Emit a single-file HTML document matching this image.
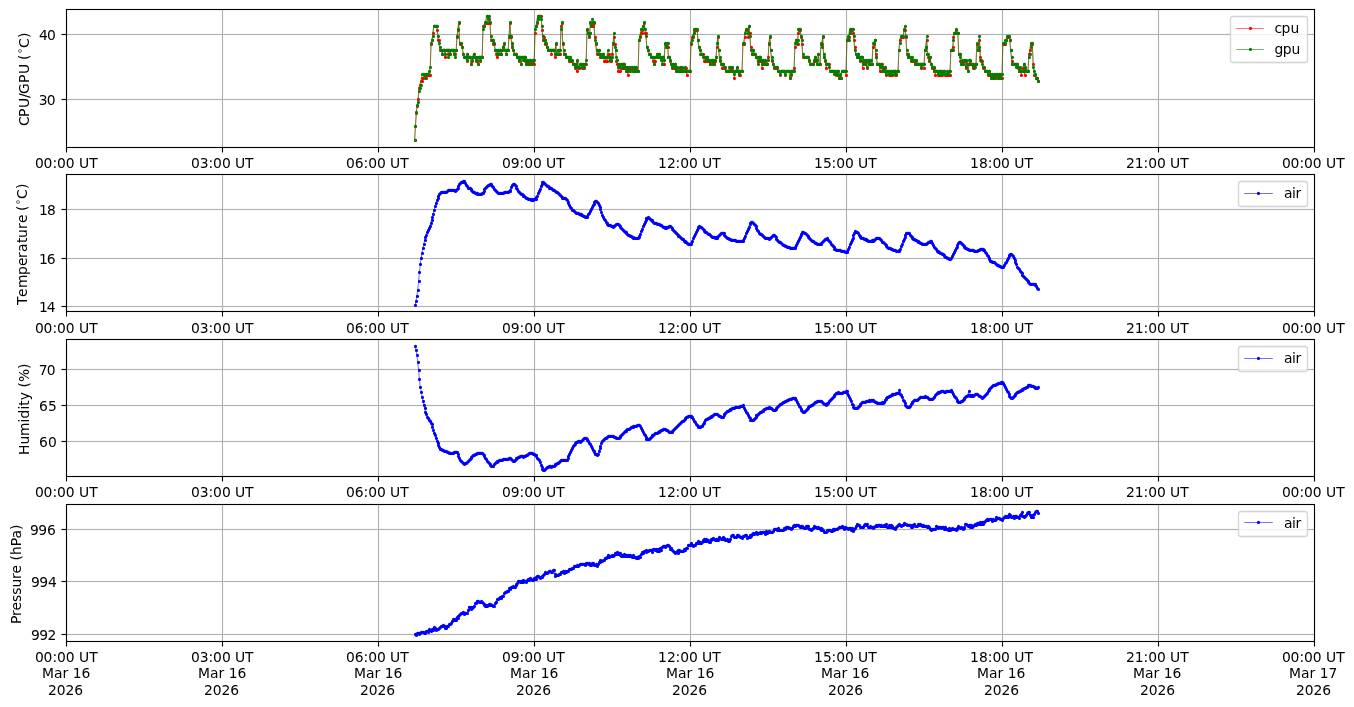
<!DOCTYPE html>
<html lang="en">
<head>
<meta charset="utf-8">
<title>Sensor log: CPU/GPU temperature, air temperature, humidity, pressure</title>
<style>
html,body{margin:0;padding:0;background:#fff}
body{width:1354px;height:707px;overflow:hidden}
svg{display:block}
text{white-space:pre}
</style>
</head>
<body>
<svg width="1354" height="707" viewBox="0 0 1354 707" font-family="'DejaVu Sans','Liberation Sans',sans-serif" font-size="13.89" fill="#000">
<rect width="1354" height="707" fill="#fff"/>
<g>
<path d="M222.5 9.5V147.5M378.5 9.5V147.5M534.5 9.5V147.5M690.5 9.5V147.5M846.5 9.5V147.5M1002.5 9.5V147.5M1158.5 9.5V147.5" stroke="#b0b0b0" stroke-width="1.11" fill="none"/>
<rect x="66.5" y="34" width="1248" height="1" fill="#b0b0b0"/><rect x="66.5" y="33" width="1248" height="3" fill="#b0b0b0" fill-opacity="0.065"/>
<rect x="66.5" y="99" width="1248" height="1" fill="#b0b0b0"/><rect x="66.5" y="98" width="1248" height="3" fill="#b0b0b0" fill-opacity="0.065"/>
<clipPath id="c0"><rect x="66.5" y="9.5" width="1248" height="138"/></clipPath>
<g clip-path="url(#c0)">
<path d="M414.59 140.12L415.46 126.32L416.32 112.52L417.19 105.62L418.06 98.72L418.92 88.37L419.79 84.92L420.66 81.47L421.52 81.47L422.39 78.02L423.26 78.02L424.12 74.57L424.99 74.57L425.86 78.02L426.72 74.57L427.59 74.57L428.45 74.57L429.32 74.57L430.19 74.57L431.05 43.52L431.92 40.07L432.79 33.17L433.65 26.27L434.52 26.27L435.39 26.27L436.25 26.27L437.12 29.72L437.98 40.07L438.85 40.07L439.72 50.42L440.58 50.42L441.45 50.42L442.32 53.87L443.18 50.42L444.05 50.42L444.92 57.32L445.78 50.42L446.65 50.42L447.51 50.42L448.38 53.87L449.25 50.42L450.11 53.87L450.98 50.42L451.85 50.42L452.71 50.42L453.58 53.87L454.45 53.87L455.31 53.87L456.18 50.42L457.04 36.62L457.91 29.72L458.78 22.82L459.64 43.52L460.51 43.52L461.38 43.52L462.24 46.97L463.11 53.87L463.98 57.32L464.84 57.32L465.71 57.32L466.58 60.77L467.44 53.87L468.31 57.32L469.17 57.32L470.04 57.32L470.91 64.22L471.77 60.77L472.64 57.32L473.51 53.87L474.37 57.32L475.24 57.32L476.11 60.77L476.97 60.77L477.84 64.22L478.7 57.32L479.57 57.32L480.44 60.77L481.3 57.32L482.17 57.32L483.04 26.27L483.9 26.27L484.77 22.82L485.64 22.82L486.5 15.92L487.37 15.92L488.23 22.82L489.1 19.37L489.97 22.82L490.83 40.07L491.7 40.07L492.57 40.07L493.43 43.52L494.3 43.52L495.17 50.42L496.03 53.87L496.9 57.32L497.76 50.42L498.63 53.87L499.5 50.42L500.36 50.42L501.23 53.87L502.1 50.42L502.96 46.97L503.83 43.52L504.7 50.42L505.56 50.42L506.43 53.87L507.29 50.42L508.16 50.42L509.03 36.62L509.89 22.82L510.76 36.62L511.63 43.52L512.49 46.97L513.36 50.42L514.23 53.87L515.09 53.87L515.96 53.87L516.83 57.32L517.69 57.32L518.56 60.77L519.42 57.32L520.29 57.32L521.16 64.22L522.02 57.32L522.89 57.32L523.76 57.32L524.62 60.77L525.49 57.32L526.36 64.22L527.22 60.77L528.09 64.22L528.95 60.77L529.82 64.22L530.69 64.22L531.55 60.77L532.42 64.22L533.29 60.77L534.15 64.22L535.02 33.17L535.89 26.27L536.75 22.82L537.62 15.92L538.48 19.37L539.35 15.92L540.22 15.92L541.08 15.92L541.95 29.72L542.82 40.07L543.68 36.62L544.55 40.07L545.42 43.52L546.28 43.52L547.15 46.97L548.01 50.42L548.88 50.42L549.75 50.42L550.61 50.42L551.48 53.87L552.35 50.42L553.21 50.42L554.08 50.42L554.95 57.32L555.81 43.52L556.68 53.87L557.55 50.42L558.41 53.87L559.28 53.87L560.14 53.87L561.01 26.27L561.88 22.82L562.74 43.52L563.61 53.87L564.48 53.87L565.34 53.87L566.21 57.32L567.08 57.32L567.94 57.32L568.81 60.77L569.67 57.32L570.54 60.77L571.41 60.77L572.27 60.77L573.14 64.22L574.01 64.22L574.87 67.67L575.74 64.22L576.61 71.12L577.47 60.77L578.34 67.67L579.2 67.67L580.07 64.22L580.94 64.22L581.8 67.67L582.67 64.22L583.54 67.67L584.4 67.67L585.27 64.22L586.14 64.22L587 29.72L587.87 33.17L588.73 36.62L589.6 33.17L590.47 22.82L591.33 26.27L592.2 22.82L593.07 26.27L593.93 22.82L594.8 36.62L595.67 43.52L596.53 53.87L597.4 50.42L598.27 53.87L599.13 50.42L600 57.32L600.86 57.32L601.73 57.32L602.6 53.87L603.46 57.32L604.33 60.77L605.2 60.77L606.06 57.32L606.93 60.77L607.8 53.87L608.66 53.87L609.53 60.77L610.39 57.32L611.26 60.77L612.13 53.87L612.99 43.52L613.86 36.62L614.73 43.52L615.59 50.42L616.46 60.77L617.33 64.22L618.19 71.12L619.06 64.22L619.92 71.12L620.79 67.67L621.66 64.22L622.52 67.67L623.39 64.22L624.26 64.22L625.12 67.67L625.99 71.12L626.86 67.67L627.72 74.57L628.59 71.12L629.45 67.67L630.32 71.12L631.19 67.67L632.05 67.67L632.92 71.12L633.79 67.67L634.65 71.12L635.52 71.12L636.39 67.67L637.25 71.12L638.12 71.12L638.99 40.07L639.85 36.62L640.72 33.17L641.58 29.72L642.45 33.17L643.32 26.27L644.18 22.82L645.05 33.17L645.92 33.17L646.78 46.97L647.65 50.42L648.52 53.87L649.38 53.87L650.25 53.87L651.11 57.32L651.98 57.32L652.85 60.77L653.71 64.22L654.58 60.77L655.45 57.32L656.31 57.32L657.18 53.87L658.05 57.32L658.91 53.87L659.78 57.32L660.64 57.32L661.51 57.32L662.38 64.22L663.24 57.32L664.11 64.22L664.98 43.52L665.84 46.97L666.71 43.52L667.58 46.97L668.44 57.32L669.31 57.32L670.17 60.77L671.04 64.22L671.91 67.67L672.77 64.22L673.64 67.67L674.51 64.22L675.37 67.67L676.24 71.12L677.11 67.67L677.97 71.12L678.84 71.12L679.7 67.67L680.57 71.12L681.44 71.12L682.3 67.67L683.17 71.12L684.04 71.12L684.9 67.67L685.77 67.67L686.64 74.57L687.5 71.12L688.37 71.12L689.24 71.12L690.1 71.12L690.97 43.52L691.83 36.62L692.7 36.62L693.57 33.17L694.43 29.72L695.3 29.72L696.17 29.72L697.03 29.72L697.9 40.07L698.77 46.97L699.63 50.42L700.5 50.42L701.36 53.87L702.23 53.87L703.1 53.87L703.96 60.77L704.83 57.32L705.7 60.77L706.56 57.32L707.43 57.32L708.3 60.77L709.16 60.77L710.03 64.22L710.89 60.77L711.76 60.77L712.63 64.22L713.49 60.77L714.36 64.22L715.23 60.77L716.09 57.32L716.96 46.97L717.83 36.62L718.69 50.42L719.56 60.77L720.42 60.77L721.29 64.22L722.16 67.67L723.02 64.22L723.89 67.67L724.76 67.67L725.62 71.12L726.49 71.12L727.36 71.12L728.22 71.12L729.09 71.12L729.96 67.67L730.82 71.12L731.69 67.67L732.55 71.12L733.42 71.12L734.29 78.02L735.15 71.12L736.02 71.12L736.89 67.67L737.75 71.12L738.62 74.57L739.49 71.12L740.35 74.57L741.22 71.12L742.08 71.12L742.95 43.52L743.82 43.52L744.68 36.62L745.55 29.72L746.42 29.72L747.28 29.72L748.15 36.62L749.02 26.27L749.88 33.17L750.75 46.97L751.61 53.87L752.48 53.87L753.35 50.42L754.21 53.87L755.08 53.87L755.95 57.32L756.81 57.32L757.68 60.77L758.55 57.32L759.41 60.77L760.28 57.32L761.14 60.77L762.01 67.67L762.88 60.77L763.74 64.22L764.61 60.77L765.48 64.22L766.34 64.22L767.21 64.22L768.08 57.32L768.94 43.52L769.81 36.62L770.68 50.42L771.54 60.77L772.41 60.77L773.27 64.22L774.14 67.67L775.01 67.67L775.87 67.67L776.74 67.67L777.61 71.12L778.47 71.12L779.34 71.12L780.21 74.57L781.07 71.12L781.94 71.12L782.8 71.12L783.67 71.12L784.54 74.57L785.4 74.57L786.27 71.12L787.14 71.12L788 71.12L788.87 71.12L789.74 78.02L790.6 74.57L791.47 71.12L792.33 71.12L793.2 71.12L794.07 67.67L794.93 46.97L795.8 40.07L796.67 43.52L797.53 43.52L798.4 33.17L799.27 29.72L800.13 29.72L801 36.62L801.86 43.52L802.73 57.32L803.6 57.32L804.46 57.32L805.33 57.32L806.2 57.32L807.06 57.32L807.93 57.32L808.8 60.77L809.66 64.22L810.53 64.22L811.4 64.22L812.26 64.22L813.13 64.22L813.99 60.77L814.86 57.32L815.73 60.77L816.59 64.22L817.46 64.22L818.33 53.87L819.19 64.22L820.06 64.22L820.93 43.52L821.79 43.52L822.66 36.62L823.52 57.32L824.39 57.32L825.26 60.77L826.12 67.67L826.99 64.22L827.86 64.22L828.72 64.22L829.59 71.12L830.46 71.12L831.32 71.12L832.19 71.12L833.05 71.12L833.92 71.12L834.79 71.12L835.65 74.57L836.52 71.12L837.39 74.57L838.25 71.12L839.12 78.02L839.99 74.57L840.85 78.02L841.72 71.12L842.58 71.12L843.45 71.12L844.32 71.12L845.18 71.12L846.05 74.57L846.92 40.07L847.78 36.62L848.65 36.62L849.52 29.72L850.38 33.17L851.25 29.72L852.11 29.72L852.98 33.17L853.85 40.07L854.71 46.97L855.58 53.87L856.45 53.87L857.31 57.32L858.18 53.87L859.05 57.32L859.91 60.77L860.78 57.32L861.65 57.32L862.51 67.67L863.38 60.77L864.24 60.77L865.11 64.22L865.98 60.77L866.84 67.67L867.71 60.77L868.58 64.22L869.44 60.77L870.31 64.22L871.18 64.22L872.04 64.22L872.91 46.97L873.77 43.52L874.64 40.07L875.51 53.87L876.37 57.32L877.24 64.22L878.11 64.22L878.97 64.22L879.84 71.12L880.71 64.22L881.57 64.22L882.44 71.12L883.3 67.67L884.17 71.12L885.04 67.67L885.9 74.57L886.77 71.12L887.64 71.12L888.5 74.57L889.37 74.57L890.24 74.57L891.1 71.12L891.97 74.57L892.83 71.12L893.7 71.12L894.57 74.57L895.43 71.12L896.3 74.57L897.17 71.12L898.03 71.12L898.9 50.42L899.77 40.07L900.63 36.62L901.5 36.62L902.37 36.62L903.23 36.62L904.1 29.72L904.96 29.72L905.83 36.62L906.7 53.87L907.56 57.32L908.43 53.87L909.3 57.32L910.16 57.32L911.03 60.77L911.9 60.77L912.76 60.77L913.63 60.77L914.49 60.77L915.36 64.22L916.23 60.77L917.09 64.22L917.96 64.22L918.83 64.22L919.69 64.22L920.56 64.22L921.43 67.67L922.29 64.22L923.16 64.22L924.02 67.67L924.89 50.42L925.76 46.97L926.62 40.07L927.49 53.87L928.36 57.32L929.22 60.77L930.09 57.32L930.96 64.22L931.82 67.67L932.69 67.67L933.55 67.67L934.42 71.12L935.29 74.57L936.15 71.12L937.02 71.12L937.89 74.57L938.75 71.12L939.62 71.12L940.49 74.57L941.35 71.12L942.22 74.57L943.09 71.12L943.95 71.12L944.82 74.57L945.68 74.57L946.55 74.57L947.42 74.57L948.28 74.57L949.15 71.12L950.02 74.57L950.88 50.42L951.75 50.42L952.62 46.97L953.48 36.62L954.35 33.17L955.21 33.17L956.08 29.72L956.95 33.17L957.81 33.17L958.68 53.87L959.55 53.87L960.41 60.77L961.28 64.22L962.15 60.77L963.01 64.22L963.88 60.77L964.74 60.77L965.61 67.67L966.48 60.77L967.34 64.22L968.21 71.12L969.08 64.22L969.94 60.77L970.81 64.22L971.68 64.22L972.54 67.67L973.41 64.22L974.27 67.67L975.14 64.22L976.01 64.22L976.87 43.52L977.74 50.42L978.61 50.42L979.47 40.07L980.34 57.32L981.21 60.77L982.07 60.77L982.94 67.67L983.81 67.67L984.67 71.12L985.54 71.12L986.4 71.12L987.27 71.12L988.14 74.57L989 71.12L989.87 74.57L990.74 78.02L991.6 74.57L992.47 78.02L993.34 78.02L994.2 74.57L995.07 78.02L995.93 74.57L996.8 74.57L997.67 78.02L998.53 74.57L999.4 78.02L1000.27 74.57L1001.13 78.02L1002 78.02L1002.87 43.52L1003.73 43.52L1004.6 43.52L1005.46 43.52L1006.33 40.07L1007.2 36.62L1008.06 36.62L1008.93 36.62L1009.8 40.07L1010.66 50.42L1011.53 60.77L1012.4 64.22L1013.26 64.22L1014.13 64.22L1014.99 64.22L1015.86 64.22L1016.73 64.22L1017.59 67.67L1018.46 67.67L1019.33 71.12L1020.19 67.67L1021.06 74.57L1021.93 71.12L1022.79 67.67L1023.66 64.22L1024.52 74.57L1025.39 67.67L1026.26 71.12L1027.12 71.12L1027.99 71.12L1028.86 53.87L1029.72 50.42L1030.59 43.52L1031.46 43.52L1032.32 43.52L1033.19 64.22L1034.06 74.57L1034.92 74.57L1035.79 78.02L1036.65 78.02L1037.52 81.47L1038.39 81.47" fill="none" stroke="#ff0000" stroke-width="0.56" stroke-linejoin="round"/>
<path d="M415.5 140.4h0M415.5 126.4h0M416.5 113.4h0M417.5 106.4h0M418.5 99.4h0M419.5 88.4h0M420.5 85.4h0M421.5 81.4h0M422.5 81.4h0M422.5 78.4h0M423.5 78.4h0M424.5 75.4h0M425.5 75.4h0M426.5 78.4h0M427.5 75.4h0M428.5 75.4h0M428.5 75.4h0M429.5 75.4h0M430.5 75.4h0M431.5 44.4h0M432.5 40.4h0M433.5 33.4h0M434.5 26.4h0M435.5 26.4h0M435.5 26.4h0M436.5 26.4h0M437.5 30.4h0M438.5 40.4h0M439.5 40.4h0M440.5 50.4h0M441.5 50.4h0M441.5 50.4h0M442.5 54.4h0M443.5 50.4h0M444.5 50.4h0M445.5 57.4h0M446.5 50.4h0M447.5 50.4h0M448.5 50.4h0M448.5 54.4h0M449.5 50.4h0M450.5 54.4h0M451.5 50.4h0M452.5 50.4h0M453.5 50.4h0M454.5 54.4h0M454.5 54.4h0M455.5 54.4h0M456.5 50.4h0M457.5 37.4h0M458.5 30.4h0M459.5 23.4h0M460.5 44.4h0M461.5 44.4h0M461.5 44.4h0M462.5 47.4h0M463.5 54.4h0M464.5 57.4h0M465.5 57.4h0M466.5 57.4h0M467.5 61.4h0M467.5 54.4h0M468.5 57.4h0M469.5 57.4h0M470.5 57.4h0M471.5 64.4h0M472.5 61.4h0M473.5 57.4h0M474.5 54.4h0M474.5 57.4h0M475.5 57.4h0M476.5 61.4h0M477.5 61.4h0M478.5 64.4h0M479.5 57.4h0M480.5 57.4h0M480.5 61.4h0M481.5 57.4h0M482.5 57.4h0M483.5 26.4h0M484.5 26.4h0M485.5 23.4h0M486.5 23.4h0M487.5 16.4h0M487.5 16.4h0M488.5 23.4h0M489.5 19.4h0M490.5 23.4h0M491.5 40.4h0M492.5 40.4h0M493.5 40.4h0M493.5 44.4h0M494.5 44.4h0M495.5 50.4h0M496.5 54.4h0M497.5 57.4h0M498.5 50.4h0M499.5 54.4h0M499.5 50.4h0M500.5 50.4h0M501.5 54.4h0M502.5 50.4h0M503.5 47.4h0M504.5 44.4h0M505.5 50.4h0M506.5 50.4h0M506.5 54.4h0M507.5 50.4h0M508.5 50.4h0M509.5 37.4h0M510.5 23.4h0M511.5 37.4h0M512.5 44.4h0M512.5 47.4h0M513.5 50.4h0M514.5 54.4h0M515.5 54.4h0M516.5 54.4h0M517.5 57.4h0M518.5 57.4h0M519.5 61.4h0M519.5 57.4h0M520.5 57.4h0M521.5 64.4h0M522.5 57.4h0M523.5 57.4h0M524.5 57.4h0M525.5 61.4h0M525.5 57.4h0M526.5 64.4h0M527.5 61.4h0M528.5 64.4h0M529.5 61.4h0M530.5 64.4h0M531.5 64.4h0M532.5 61.4h0M532.5 64.4h0M533.5 61.4h0M534.5 64.4h0M535.5 33.4h0M536.5 26.4h0M537.5 23.4h0M538.5 16.4h0M538.5 19.4h0M539.5 16.4h0M540.5 16.4h0M541.5 16.4h0M542.5 30.4h0M543.5 40.4h0M544.5 37.4h0M545.5 40.4h0M545.5 44.4h0M546.5 44.4h0M547.5 47.4h0M548.5 50.4h0M549.5 50.4h0M550.5 50.4h0M551.5 50.4h0M551.5 54.4h0M552.5 50.4h0M553.5 50.4h0M554.5 50.4h0M555.5 57.4h0M556.5 44.4h0M557.5 54.4h0M558.5 50.4h0M558.5 54.4h0M559.5 54.4h0M560.5 54.4h0M561.5 26.4h0M562.5 23.4h0M563.5 44.4h0M564.5 54.4h0M564.5 54.4h0M565.5 54.4h0M566.5 57.4h0M567.5 57.4h0M568.5 57.4h0M569.5 61.4h0M570.5 57.4h0M571.5 61.4h0M571.5 61.4h0M572.5 61.4h0M573.5 64.4h0M574.5 64.4h0M575.5 68.4h0M576.5 64.4h0M577.5 71.4h0M577.5 61.4h0M578.5 68.4h0M579.5 68.4h0M580.5 64.4h0M581.5 64.4h0M582.5 68.4h0M583.5 64.4h0M584.5 68.4h0M584.5 68.4h0M585.5 64.4h0M586.5 64.4h0M587.5 30.4h0M588.5 33.4h0M589.5 37.4h0M590.5 33.4h0M590.5 23.4h0M591.5 26.4h0M592.5 23.4h0M593.5 26.4h0M594.5 23.4h0M595.5 37.4h0M596.5 44.4h0M597.5 54.4h0M597.5 50.4h0M598.5 54.4h0M599.5 50.4h0M600.5 57.4h0M601.5 57.4h0M602.5 57.4h0M603.5 54.4h0M603.5 57.4h0M604.5 61.4h0M605.5 61.4h0M606.5 57.4h0M607.5 61.4h0M608.5 54.4h0M609.5 54.4h0M610.5 61.4h0M610.5 57.4h0M611.5 61.4h0M612.5 54.4h0M613.5 44.4h0M614.5 37.4h0M615.5 44.4h0M616.5 50.4h0M616.5 61.4h0M617.5 64.4h0M618.5 71.4h0M619.5 64.4h0M620.5 71.4h0M621.5 68.4h0M622.5 64.4h0M623.5 68.4h0M623.5 64.4h0M624.5 64.4h0M625.5 68.4h0M626.5 71.4h0M627.5 68.4h0M628.5 75.4h0M629.5 71.4h0M629.5 68.4h0M630.5 71.4h0M631.5 68.4h0M632.5 68.4h0M633.5 71.4h0M634.5 68.4h0M635.5 71.4h0M636.5 71.4h0M636.5 68.4h0M637.5 71.4h0M638.5 71.4h0M639.5 40.4h0M640.5 37.4h0M641.5 33.4h0M642.5 30.4h0M642.5 33.4h0M643.5 26.4h0M644.5 23.4h0M645.5 33.4h0M646.5 33.4h0M647.5 47.4h0M648.5 50.4h0M649.5 54.4h0M649.5 54.4h0M650.5 54.4h0M651.5 57.4h0M652.5 57.4h0M653.5 61.4h0M654.5 64.4h0M655.5 61.4h0M655.5 57.4h0M656.5 57.4h0M657.5 54.4h0M658.5 57.4h0M659.5 54.4h0M660.5 57.4h0M661.5 57.4h0M662.5 57.4h0M662.5 64.4h0M663.5 57.4h0M664.5 64.4h0M665.5 44.4h0M666.5 47.4h0M667.5 44.4h0M668.5 47.4h0M668.5 57.4h0M669.5 57.4h0M670.5 61.4h0M671.5 64.4h0M672.5 68.4h0M673.5 64.4h0M674.5 68.4h0M675.5 64.4h0M675.5 68.4h0M676.5 71.4h0M677.5 68.4h0M678.5 71.4h0M679.5 71.4h0M680.5 68.4h0M681.5 71.4h0M681.5 71.4h0M682.5 68.4h0M683.5 71.4h0M684.5 71.4h0M685.5 68.4h0M686.5 68.4h0M687.5 75.4h0M688.5 71.4h0M688.5 71.4h0M689.5 71.4h0M690.5 71.4h0M691.5 44.4h0M692.5 37.4h0M693.5 37.4h0M694.5 33.4h0M694.5 30.4h0M695.5 30.4h0M696.5 30.4h0M697.5 30.4h0M698.5 40.4h0M699.5 47.4h0M700.5 50.4h0M700.5 50.4h0M701.5 54.4h0M702.5 54.4h0M703.5 54.4h0M704.5 61.4h0M705.5 57.4h0M706.5 61.4h0M707.5 57.4h0M707.5 57.4h0M708.5 61.4h0M709.5 61.4h0M710.5 64.4h0M711.5 61.4h0M712.5 61.4h0M713.5 64.4h0M713.5 61.4h0M714.5 64.4h0M715.5 61.4h0M716.5 57.4h0M717.5 47.4h0M718.5 37.4h0M719.5 50.4h0M720.5 61.4h0M720.5 61.4h0M721.5 64.4h0M722.5 68.4h0M723.5 64.4h0M724.5 68.4h0M725.5 68.4h0M726.5 71.4h0M726.5 71.4h0M727.5 71.4h0M728.5 71.4h0M729.5 71.4h0M730.5 68.4h0M731.5 71.4h0M732.5 68.4h0M733.5 71.4h0M733.5 71.4h0M734.5 78.4h0M735.5 71.4h0M736.5 71.4h0M737.5 68.4h0M738.5 71.4h0M739.5 75.4h0M739.5 71.4h0M740.5 75.4h0M741.5 71.4h0M742.5 71.4h0M743.5 44.4h0M744.5 44.4h0M745.5 37.4h0M746.5 30.4h0M746.5 30.4h0M747.5 30.4h0M748.5 37.4h0M749.5 26.4h0M750.5 33.4h0M751.5 47.4h0M752.5 54.4h0M752.5 54.4h0M753.5 50.4h0M754.5 54.4h0M755.5 54.4h0M756.5 57.4h0M757.5 57.4h0M758.5 61.4h0M759.5 57.4h0M759.5 61.4h0M760.5 57.4h0M761.5 61.4h0M762.5 68.4h0M763.5 61.4h0M764.5 64.4h0M765.5 61.4h0M765.5 64.4h0M766.5 64.4h0M767.5 64.4h0M768.5 57.4h0M769.5 44.4h0M770.5 37.4h0M771.5 50.4h0M772.5 61.4h0M772.5 61.4h0M773.5 64.4h0M774.5 68.4h0M775.5 68.4h0M776.5 68.4h0M777.5 68.4h0M778.5 71.4h0M778.5 71.4h0M779.5 71.4h0M780.5 75.4h0M781.5 71.4h0M782.5 71.4h0M783.5 71.4h0M784.5 71.4h0M785.5 75.4h0M785.5 75.4h0M786.5 71.4h0M787.5 71.4h0M788.5 71.4h0M789.5 71.4h0M790.5 78.4h0M791.5 75.4h0M791.5 71.4h0M792.5 71.4h0M793.5 71.4h0M794.5 68.4h0M795.5 47.4h0M796.5 40.4h0M797.5 44.4h0M798.5 44.4h0M798.5 33.4h0M799.5 30.4h0M800.5 30.4h0M801.5 37.4h0M802.5 44.4h0M803.5 57.4h0M804.5 57.4h0M804.5 57.4h0M805.5 57.4h0M806.5 57.4h0M807.5 57.4h0M808.5 57.4h0M809.5 61.4h0M810.5 64.4h0M811.5 64.4h0M811.5 64.4h0M812.5 64.4h0M813.5 64.4h0M814.5 61.4h0M815.5 57.4h0M816.5 61.4h0M817.5 64.4h0M817.5 64.4h0M818.5 54.4h0M819.5 64.4h0M820.5 64.4h0M821.5 44.4h0M822.5 44.4h0M823.5 37.4h0M824.5 57.4h0M824.5 57.4h0M825.5 61.4h0M826.5 68.4h0M827.5 64.4h0M828.5 64.4h0M829.5 64.4h0M830.5 71.4h0M830.5 71.4h0M831.5 71.4h0M832.5 71.4h0M833.5 71.4h0M834.5 71.4h0M835.5 71.4h0M836.5 75.4h0M837.5 71.4h0M837.5 75.4h0M838.5 71.4h0M839.5 78.4h0M840.5 75.4h0M841.5 78.4h0M842.5 71.4h0M843.5 71.4h0M843.5 71.4h0M844.5 71.4h0M845.5 71.4h0M846.5 75.4h0M847.5 40.4h0M848.5 37.4h0M849.5 37.4h0M850.5 30.4h0M850.5 33.4h0M851.5 30.4h0M852.5 30.4h0M853.5 33.4h0M854.5 40.4h0M855.5 47.4h0M856.5 54.4h0M856.5 54.4h0M857.5 57.4h0M858.5 54.4h0M859.5 57.4h0M860.5 61.4h0M861.5 57.4h0M862.5 57.4h0M863.5 68.4h0M863.5 61.4h0M864.5 61.4h0M865.5 64.4h0M866.5 61.4h0M867.5 68.4h0M868.5 61.4h0M869.5 64.4h0M869.5 61.4h0M870.5 64.4h0M871.5 64.4h0M872.5 64.4h0M873.5 47.4h0M874.5 44.4h0M875.5 40.4h0M876.5 54.4h0M876.5 57.4h0M877.5 64.4h0M878.5 64.4h0M879.5 64.4h0M880.5 71.4h0M881.5 64.4h0M882.5 64.4h0M882.5 71.4h0M883.5 68.4h0M884.5 71.4h0M885.5 68.4h0M886.5 75.4h0M887.5 71.4h0M888.5 71.4h0M889.5 75.4h0M889.5 75.4h0M890.5 75.4h0M891.5 71.4h0M892.5 75.4h0M893.5 71.4h0M894.5 71.4h0M895.5 75.4h0M895.5 71.4h0M896.5 75.4h0M897.5 71.4h0M898.5 71.4h0M899.5 50.4h0M900.5 40.4h0M901.5 37.4h0M901.5 37.4h0M902.5 37.4h0M903.5 37.4h0M904.5 30.4h0M905.5 30.4h0M906.5 37.4h0M907.5 54.4h0M908.5 57.4h0M908.5 54.4h0M909.5 57.4h0M910.5 57.4h0M911.5 61.4h0M912.5 61.4h0M913.5 61.4h0M914.5 61.4h0M914.5 61.4h0M915.5 64.4h0M916.5 61.4h0M917.5 64.4h0M918.5 64.4h0M919.5 64.4h0M920.5 64.4h0M921.5 64.4h0M921.5 68.4h0M922.5 64.4h0M923.5 64.4h0M924.5 68.4h0M925.5 50.4h0M926.5 47.4h0M927.5 40.4h0M927.5 54.4h0M928.5 57.4h0M929.5 61.4h0M930.5 57.4h0M931.5 64.4h0M932.5 68.4h0M933.5 68.4h0M934.5 68.4h0M934.5 71.4h0M935.5 75.4h0M936.5 71.4h0M937.5 71.4h0M938.5 75.4h0M939.5 71.4h0M940.5 71.4h0M940.5 75.4h0M941.5 71.4h0M942.5 75.4h0M943.5 71.4h0M944.5 71.4h0M945.5 75.4h0M946.5 75.4h0M947.5 75.4h0M947.5 75.4h0M948.5 75.4h0M949.5 71.4h0M950.5 75.4h0M951.5 50.4h0M952.5 50.4h0M953.5 47.4h0M953.5 37.4h0M954.5 33.4h0M955.5 33.4h0M956.5 30.4h0M957.5 33.4h0M958.5 33.4h0M959.5 54.4h0M960.5 54.4h0M960.5 61.4h0M961.5 64.4h0M962.5 61.4h0M963.5 64.4h0M964.5 61.4h0M965.5 61.4h0M966.5 68.4h0M966.5 61.4h0M967.5 64.4h0M968.5 71.4h0M969.5 64.4h0M970.5 61.4h0M971.5 64.4h0M972.5 64.4h0M973.5 68.4h0M973.5 64.4h0M974.5 68.4h0M975.5 64.4h0M976.5 64.4h0M977.5 44.4h0M978.5 50.4h0M979.5 50.4h0M979.5 40.4h0M980.5 57.4h0M981.5 61.4h0M982.5 61.4h0M983.5 68.4h0M984.5 68.4h0M985.5 71.4h0M986.5 71.4h0M986.5 71.4h0M987.5 71.4h0M988.5 75.4h0M989.5 71.4h0M990.5 75.4h0M991.5 78.4h0M992.5 75.4h0M992.5 78.4h0M993.5 78.4h0M994.5 75.4h0M995.5 78.4h0M996.5 75.4h0M997.5 75.4h0M998.5 78.4h0M999.5 75.4h0M999.5 78.4h0M1000.5 75.4h0M1001.5 78.4h0M1002.5 78.4h0M1003.5 44.4h0M1004.5 44.4h0M1005.5 44.4h0M1005.5 44.4h0M1006.5 40.4h0M1007.5 37.4h0M1008.5 37.4h0M1009.5 37.4h0M1010.5 40.4h0M1011.5 50.4h0M1012.5 61.4h0M1012.5 64.4h0M1013.5 64.4h0M1014.5 64.4h0M1015.5 64.4h0M1016.5 64.4h0M1017.5 64.4h0M1018.5 68.4h0M1018.5 68.4h0M1019.5 71.4h0M1020.5 68.4h0M1021.5 75.4h0M1022.5 71.4h0M1023.5 68.4h0M1024.5 64.4h0M1025.5 75.4h0M1025.5 68.4h0M1026.5 71.4h0M1027.5 71.4h0M1028.5 71.4h0M1029.5 54.4h0M1030.5 50.4h0M1031.5 44.4h0M1031.5 44.4h0M1032.5 44.4h0M1033.5 64.4h0M1034.5 75.4h0M1035.5 75.4h0M1036.5 78.4h0M1037.5 78.4h0M1038.5 81.4h0M1038.5 81.4h0" fill="none" stroke="#ff0000" stroke-width="3.12" stroke-linecap="round"/>
<path d="M414.59 139.75L415.46 125.95L416.32 112.15L417.19 105.25L418.06 101.8L418.92 91.45L419.79 88L420.66 84.55L421.52 74.2L422.39 74.2L423.26 74.2L424.12 74.2L424.99 77.65L425.86 74.2L426.72 74.2L427.59 74.2L428.45 74.2L429.32 70.75L430.19 67.3L431.05 43.15L431.92 39.7L432.79 36.25L433.65 25.9L434.52 25.9L435.39 25.9L436.25 25.9L437.12 25.9L437.98 36.25L438.85 43.15L439.72 46.6L440.58 50.05L441.45 50.05L442.32 53.5L443.18 50.05L444.05 50.05L444.92 53.5L445.78 50.05L446.65 50.05L447.51 50.05L448.38 56.95L449.25 50.05L450.11 53.5L450.98 50.05L451.85 50.05L452.71 50.05L453.58 53.5L454.45 50.05L455.31 56.95L456.18 50.05L457.04 36.25L457.91 29.35L458.78 22.45L459.64 43.15L460.51 43.15L461.38 43.15L462.24 46.6L463.11 53.5L463.98 56.95L464.84 56.95L465.71 56.95L466.58 60.4L467.44 53.5L468.31 56.95L469.17 56.95L470.04 56.95L470.91 63.85L471.77 60.4L472.64 56.95L473.51 53.5L474.37 56.95L475.24 56.95L476.11 60.4L476.97 56.95L477.84 63.85L478.7 56.95L479.57 56.95L480.44 60.4L481.3 56.95L482.17 56.95L483.04 29.35L483.9 25.9L484.77 22.45L485.64 22.45L486.5 15.55L487.37 15.55L488.23 19L489.1 15.55L489.97 22.45L490.83 36.25L491.7 39.7L492.57 39.7L493.43 43.15L494.3 43.15L495.17 50.05L496.03 50.05L496.9 53.5L497.76 50.05L498.63 53.5L499.5 53.5L500.36 50.05L501.23 53.5L502.1 50.05L502.96 46.6L503.83 43.15L504.7 50.05L505.56 50.05L506.43 53.5L507.29 50.05L508.16 50.05L509.03 36.25L509.89 22.45L510.76 36.25L511.63 43.15L512.49 46.6L513.36 50.05L514.23 53.5L515.09 53.5L515.96 53.5L516.83 56.95L517.69 56.95L518.56 60.4L519.42 56.95L520.29 56.95L521.16 63.85L522.02 56.95L522.89 60.4L523.76 56.95L524.62 60.4L525.49 56.95L526.36 63.85L527.22 60.4L528.09 63.85L528.95 60.4L529.82 60.4L530.69 63.85L531.55 60.4L532.42 63.85L533.29 60.4L534.15 60.4L535.02 29.35L535.89 25.9L536.75 22.45L537.62 15.55L538.48 19L539.35 15.55L540.22 15.55L541.08 19L541.95 25.9L542.82 36.25L543.68 39.7L544.55 39.7L545.42 43.15L546.28 43.15L547.15 46.6L548.01 50.05L548.88 50.05L549.75 50.05L550.61 50.05L551.48 50.05L552.35 50.05L553.21 50.05L554.08 50.05L554.95 53.5L555.81 43.15L556.68 53.5L557.55 50.05L558.41 53.5L559.28 53.5L560.14 50.05L561.01 29.35L561.88 22.45L562.74 43.15L563.61 50.05L564.48 53.5L565.34 53.5L566.21 56.95L567.08 56.95L567.94 56.95L568.81 60.4L569.67 56.95L570.54 60.4L571.41 60.4L572.27 60.4L573.14 63.85L574.01 63.85L574.87 67.3L575.74 63.85L576.61 67.3L577.47 60.4L578.34 67.3L579.2 67.3L580.07 63.85L580.94 63.85L581.8 67.3L582.67 63.85L583.54 67.3L584.4 67.3L585.27 63.85L586.14 60.4L587 29.35L587.87 32.8L588.73 36.25L589.6 32.8L590.47 22.45L591.33 25.9L592.2 19L593.07 22.45L593.93 22.45L594.8 39.7L595.67 43.15L596.53 50.05L597.4 50.05L598.27 53.5L599.13 50.05L600 53.5L600.86 56.95L601.73 53.5L602.6 53.5L603.46 56.95L604.33 56.95L605.2 56.95L606.06 56.95L606.93 56.95L607.8 50.05L608.66 56.95L609.53 60.4L610.39 56.95L611.26 60.4L612.13 56.95L612.99 43.15L613.86 32.8L614.73 46.6L615.59 50.05L616.46 56.95L617.33 60.4L618.19 67.3L619.06 63.85L619.92 67.3L620.79 63.85L621.66 63.85L622.52 67.3L623.39 63.85L624.26 63.85L625.12 67.3L625.99 70.75L626.86 67.3L627.72 70.75L628.59 70.75L629.45 67.3L630.32 70.75L631.19 67.3L632.05 67.3L632.92 70.75L633.79 67.3L634.65 70.75L635.52 70.75L636.39 67.3L637.25 70.75L638.12 70.75L638.99 39.7L639.85 36.25L640.72 29.35L641.58 29.35L642.45 29.35L643.32 25.9L644.18 22.45L645.05 29.35L645.92 36.25L646.78 46.6L647.65 50.05L648.52 53.5L649.38 53.5L650.25 53.5L651.11 56.95L651.98 56.95L652.85 56.95L653.71 63.85L654.58 56.95L655.45 56.95L656.31 56.95L657.18 53.5L658.05 56.95L658.91 53.5L659.78 56.95L660.64 60.4L661.51 56.95L662.38 63.85L663.24 56.95L664.11 60.4L664.98 43.15L665.84 46.6L666.71 43.15L667.58 43.15L668.44 56.95L669.31 56.95L670.17 60.4L671.04 63.85L671.91 67.3L672.77 63.85L673.64 67.3L674.51 63.85L675.37 67.3L676.24 70.75L677.11 67.3L677.97 70.75L678.84 70.75L679.7 67.3L680.57 70.75L681.44 70.75L682.3 67.3L683.17 70.75L684.04 70.75L684.9 67.3L685.77 70.75L686.64 70.75L687.5 70.75L688.37 70.75L689.24 70.75L690.1 70.75L690.97 43.15L691.83 39.7L692.7 36.25L693.57 32.8L694.43 29.35L695.3 29.35L696.17 29.35L697.03 29.35L697.9 39.7L698.77 46.6L699.63 50.05L700.5 53.5L701.36 53.5L702.23 53.5L703.1 56.95L703.96 56.95L704.83 56.95L705.7 60.4L706.56 56.95L707.43 56.95L708.3 60.4L709.16 60.4L710.03 63.85L710.89 60.4L711.76 60.4L712.63 63.85L713.49 60.4L714.36 63.85L715.23 60.4L716.09 56.95L716.96 43.15L717.83 36.25L718.69 50.05L719.56 56.95L720.42 60.4L721.29 63.85L722.16 63.85L723.02 63.85L723.89 67.3L724.76 67.3L725.62 70.75L726.49 70.75L727.36 70.75L728.22 70.75L729.09 67.3L729.96 67.3L730.82 70.75L731.69 67.3L732.55 70.75L733.42 70.75L734.29 74.2L735.15 70.75L736.02 70.75L736.89 67.3L737.75 70.75L738.62 74.2L739.49 70.75L740.35 70.75L741.22 70.75L742.08 70.75L742.95 43.15L743.82 43.15L744.68 32.8L745.55 29.35L746.42 29.35L747.28 29.35L748.15 32.8L749.02 25.9L749.88 36.25L750.75 50.05L751.61 50.05L752.48 53.5L753.35 50.05L754.21 53.5L755.08 53.5L755.95 56.95L756.81 56.95L757.68 63.85L758.55 56.95L759.41 60.4L760.28 56.95L761.14 60.4L762.01 63.85L762.88 60.4L763.74 63.85L764.61 60.4L765.48 63.85L766.34 63.85L767.21 63.85L768.08 60.4L768.94 43.15L769.81 36.25L770.68 50.05L771.54 56.95L772.41 60.4L773.27 63.85L774.14 67.3L775.01 67.3L775.87 67.3L776.74 67.3L777.61 70.75L778.47 70.75L779.34 70.75L780.21 74.2L781.07 70.75L781.94 70.75L782.8 70.75L783.67 70.75L784.54 74.2L785.4 74.2L786.27 70.75L787.14 70.75L788 70.75L788.87 70.75L789.74 77.65L790.6 74.2L791.47 70.75L792.33 70.75L793.2 70.75L794.07 70.75L794.93 43.15L795.8 39.7L796.67 43.15L797.53 39.7L798.4 29.35L799.27 29.35L800.13 29.35L801 36.25L801.86 39.7L802.73 53.5L803.6 56.95L804.46 56.95L805.33 56.95L806.2 56.95L807.06 56.95L807.93 56.95L808.8 60.4L809.66 63.85L810.53 63.85L811.4 63.85L812.26 63.85L813.13 63.85L813.99 60.4L814.86 56.95L815.73 60.4L816.59 63.85L817.46 60.4L818.33 53.5L819.19 63.85L820.06 63.85L820.93 43.15L821.79 46.6L822.66 36.25L823.52 53.5L824.39 56.95L825.26 60.4L826.12 63.85L826.99 63.85L827.86 63.85L828.72 67.3L829.59 70.75L830.46 70.75L831.32 70.75L832.19 70.75L833.05 70.75L833.92 74.2L834.79 70.75L835.65 74.2L836.52 70.75L837.39 74.2L838.25 70.75L839.12 77.65L839.99 74.2L840.85 77.65L841.72 70.75L842.58 70.75L843.45 70.75L844.32 70.75L845.18 70.75L846.05 70.75L846.92 39.7L847.78 36.25L848.65 39.7L849.52 29.35L850.38 32.8L851.25 29.35L852.11 29.35L852.98 29.35L853.85 36.25L854.71 50.05L855.58 53.5L856.45 53.5L857.31 56.95L858.18 53.5L859.05 56.95L859.91 60.4L860.78 56.95L861.65 56.95L862.51 63.85L863.38 60.4L864.24 60.4L865.11 63.85L865.98 60.4L866.84 67.3L867.71 60.4L868.58 63.85L869.44 60.4L870.31 63.85L871.18 60.4L872.04 63.85L872.91 43.15L873.77 43.15L874.64 39.7L875.51 50.05L876.37 56.95L877.24 63.85L878.11 63.85L878.97 63.85L879.84 67.3L880.71 63.85L881.57 67.3L882.44 70.75L883.3 67.3L884.17 70.75L885.04 67.3L885.9 74.2L886.77 70.75L887.64 70.75L888.5 74.2L889.37 70.75L890.24 74.2L891.1 70.75L891.97 74.2L892.83 70.75L893.7 70.75L894.57 74.2L895.43 70.75L896.3 74.2L897.17 70.75L898.03 70.75L898.9 50.05L899.77 43.15L900.63 36.25L901.5 36.25L902.37 36.25L903.23 36.25L904.1 29.35L904.96 25.9L905.83 36.25L906.7 50.05L907.56 56.95L908.43 53.5L909.3 56.95L910.16 56.95L911.03 60.4L911.9 56.95L912.76 60.4L913.63 60.4L914.49 60.4L915.36 63.85L916.23 60.4L917.09 63.85L917.96 63.85L918.83 63.85L919.69 63.85L920.56 63.85L921.43 67.3L922.29 63.85L923.16 63.85L924.02 63.85L924.89 50.05L925.76 46.6L926.62 36.25L927.49 53.5L928.36 53.5L929.22 60.4L930.09 56.95L930.96 63.85L931.82 67.3L932.69 67.3L933.55 67.3L934.42 70.75L935.29 70.75L936.15 70.75L937.02 70.75L937.89 74.2L938.75 70.75L939.62 70.75L940.49 74.2L941.35 70.75L942.22 74.2L943.09 74.2L943.95 70.75L944.82 74.2L945.68 74.2L946.55 70.75L947.42 74.2L948.28 74.2L949.15 70.75L950.02 70.75L950.88 50.05L951.75 50.05L952.62 50.05L953.48 39.7L954.35 32.8L955.21 32.8L956.08 29.35L956.95 32.8L957.81 32.8L958.68 53.5L959.55 53.5L960.41 56.95L961.28 63.85L962.15 60.4L963.01 63.85L963.88 60.4L964.74 60.4L965.61 67.3L966.48 60.4L967.34 63.85L968.21 70.75L969.08 60.4L969.94 60.4L970.81 63.85L971.68 63.85L972.54 67.3L973.41 63.85L974.27 67.3L975.14 67.3L976.01 63.85L976.87 43.15L977.74 50.05L978.61 46.6L979.47 36.25L980.34 60.4L981.21 60.4L982.07 63.85L982.94 67.3L983.81 67.3L984.67 70.75L985.54 70.75L986.4 70.75L987.27 70.75L988.14 74.2L989 70.75L989.87 74.2L990.74 77.65L991.6 74.2L992.47 77.65L993.34 77.65L994.2 74.2L995.07 77.65L995.93 74.2L996.8 74.2L997.67 77.65L998.53 74.2L999.4 77.65L1000.27 74.2L1001.13 77.65L1002 74.2L1002.87 43.15L1003.73 43.15L1004.6 43.15L1005.46 39.7L1006.33 39.7L1007.2 36.25L1008.06 36.25L1008.93 36.25L1009.8 39.7L1010.66 50.05L1011.53 56.95L1012.4 63.85L1013.26 63.85L1014.13 63.85L1014.99 63.85L1015.86 67.3L1016.73 63.85L1017.59 67.3L1018.46 67.3L1019.33 70.75L1020.19 67.3L1021.06 70.75L1021.93 70.75L1022.79 70.75L1023.66 63.85L1024.52 70.75L1025.39 67.3L1026.26 70.75L1027.12 70.75L1027.99 70.75L1028.86 56.95L1029.72 53.5L1030.59 46.6L1031.46 43.15L1032.32 43.15L1033.19 67.3L1034.06 70.75L1034.92 74.2L1035.79 77.65L1036.65 77.65L1037.52 81.1L1038.39 81.1" fill="none" stroke="#008000" stroke-width="0.56" stroke-linejoin="round"/>
<path d="M415.5 140.4h0M415.5 126.4h0M416.5 112.4h0M417.5 105.4h0M418.5 102.4h0M419.5 91.4h0M420.5 88.4h0M421.5 85.4h0M422.5 74.4h0M422.5 74.4h0M423.5 74.4h0M424.5 74.4h0M425.5 78.4h0M426.5 74.4h0M427.5 74.4h0M428.5 74.4h0M428.5 74.4h0M429.5 71.4h0M430.5 67.4h0M431.5 43.4h0M432.5 40.4h0M433.5 36.4h0M434.5 26.4h0M435.5 26.4h0M435.5 26.4h0M436.5 26.4h0M437.5 26.4h0M438.5 36.4h0M439.5 43.4h0M440.5 47.4h0M441.5 50.4h0M441.5 50.4h0M442.5 54.4h0M443.5 50.4h0M444.5 50.4h0M445.5 54.4h0M446.5 50.4h0M447.5 50.4h0M448.5 50.4h0M448.5 57.4h0M449.5 50.4h0M450.5 54.4h0M451.5 50.4h0M452.5 50.4h0M453.5 50.4h0M454.5 54.4h0M454.5 50.4h0M455.5 57.4h0M456.5 50.4h0M457.5 36.4h0M458.5 29.4h0M459.5 22.4h0M460.5 43.4h0M461.5 43.4h0M461.5 43.4h0M462.5 47.4h0M463.5 54.4h0M464.5 57.4h0M465.5 57.4h0M466.5 57.4h0M467.5 60.4h0M467.5 54.4h0M468.5 57.4h0M469.5 57.4h0M470.5 57.4h0M471.5 64.4h0M472.5 60.4h0M473.5 57.4h0M474.5 54.4h0M474.5 57.4h0M475.5 57.4h0M476.5 60.4h0M477.5 57.4h0M478.5 64.4h0M479.5 57.4h0M480.5 57.4h0M480.5 60.4h0M481.5 57.4h0M482.5 57.4h0M483.5 29.4h0M484.5 26.4h0M485.5 22.4h0M486.5 22.4h0M487.5 16.4h0M487.5 16.4h0M488.5 19.4h0M489.5 16.4h0M490.5 22.4h0M491.5 36.4h0M492.5 40.4h0M493.5 40.4h0M493.5 43.4h0M494.5 43.4h0M495.5 50.4h0M496.5 50.4h0M497.5 54.4h0M498.5 50.4h0M499.5 54.4h0M499.5 54.4h0M500.5 50.4h0M501.5 54.4h0M502.5 50.4h0M503.5 47.4h0M504.5 43.4h0M505.5 50.4h0M506.5 50.4h0M506.5 54.4h0M507.5 50.4h0M508.5 50.4h0M509.5 36.4h0M510.5 22.4h0M511.5 36.4h0M512.5 43.4h0M512.5 47.4h0M513.5 50.4h0M514.5 54.4h0M515.5 54.4h0M516.5 54.4h0M517.5 57.4h0M518.5 57.4h0M519.5 60.4h0M519.5 57.4h0M520.5 57.4h0M521.5 64.4h0M522.5 57.4h0M523.5 60.4h0M524.5 57.4h0M525.5 60.4h0M525.5 57.4h0M526.5 64.4h0M527.5 60.4h0M528.5 64.4h0M529.5 60.4h0M530.5 60.4h0M531.5 64.4h0M532.5 60.4h0M532.5 64.4h0M533.5 60.4h0M534.5 60.4h0M535.5 29.4h0M536.5 26.4h0M537.5 22.4h0M538.5 16.4h0M538.5 19.4h0M539.5 16.4h0M540.5 16.4h0M541.5 19.4h0M542.5 26.4h0M543.5 36.4h0M544.5 40.4h0M545.5 40.4h0M545.5 43.4h0M546.5 43.4h0M547.5 47.4h0M548.5 50.4h0M549.5 50.4h0M550.5 50.4h0M551.5 50.4h0M551.5 50.4h0M552.5 50.4h0M553.5 50.4h0M554.5 50.4h0M555.5 54.4h0M556.5 43.4h0M557.5 54.4h0M558.5 50.4h0M558.5 54.4h0M559.5 54.4h0M560.5 50.4h0M561.5 29.4h0M562.5 22.4h0M563.5 43.4h0M564.5 50.4h0M564.5 54.4h0M565.5 54.4h0M566.5 57.4h0M567.5 57.4h0M568.5 57.4h0M569.5 60.4h0M570.5 57.4h0M571.5 60.4h0M571.5 60.4h0M572.5 60.4h0M573.5 64.4h0M574.5 64.4h0M575.5 67.4h0M576.5 64.4h0M577.5 67.4h0M577.5 60.4h0M578.5 67.4h0M579.5 67.4h0M580.5 64.4h0M581.5 64.4h0M582.5 67.4h0M583.5 64.4h0M584.5 67.4h0M584.5 67.4h0M585.5 64.4h0M586.5 60.4h0M587.5 29.4h0M588.5 33.4h0M589.5 36.4h0M590.5 33.4h0M590.5 22.4h0M591.5 26.4h0M592.5 19.4h0M593.5 22.4h0M594.5 22.4h0M595.5 40.4h0M596.5 43.4h0M597.5 50.4h0M597.5 50.4h0M598.5 54.4h0M599.5 50.4h0M600.5 54.4h0M601.5 57.4h0M602.5 54.4h0M603.5 54.4h0M603.5 57.4h0M604.5 57.4h0M605.5 57.4h0M606.5 57.4h0M607.5 57.4h0M608.5 50.4h0M609.5 57.4h0M610.5 60.4h0M610.5 57.4h0M611.5 60.4h0M612.5 57.4h0M613.5 43.4h0M614.5 33.4h0M615.5 47.4h0M616.5 50.4h0M616.5 57.4h0M617.5 60.4h0M618.5 67.4h0M619.5 64.4h0M620.5 67.4h0M621.5 64.4h0M622.5 64.4h0M623.5 67.4h0M623.5 64.4h0M624.5 64.4h0M625.5 67.4h0M626.5 71.4h0M627.5 67.4h0M628.5 71.4h0M629.5 71.4h0M629.5 67.4h0M630.5 71.4h0M631.5 67.4h0M632.5 67.4h0M633.5 71.4h0M634.5 67.4h0M635.5 71.4h0M636.5 71.4h0M636.5 67.4h0M637.5 71.4h0M638.5 71.4h0M639.5 40.4h0M640.5 36.4h0M641.5 29.4h0M642.5 29.4h0M642.5 29.4h0M643.5 26.4h0M644.5 22.4h0M645.5 29.4h0M646.5 36.4h0M647.5 47.4h0M648.5 50.4h0M649.5 54.4h0M649.5 54.4h0M650.5 54.4h0M651.5 57.4h0M652.5 57.4h0M653.5 57.4h0M654.5 64.4h0M655.5 57.4h0M655.5 57.4h0M656.5 57.4h0M657.5 54.4h0M658.5 57.4h0M659.5 54.4h0M660.5 57.4h0M661.5 60.4h0M662.5 57.4h0M662.5 64.4h0M663.5 57.4h0M664.5 60.4h0M665.5 43.4h0M666.5 47.4h0M667.5 43.4h0M668.5 43.4h0M668.5 57.4h0M669.5 57.4h0M670.5 60.4h0M671.5 64.4h0M672.5 67.4h0M673.5 64.4h0M674.5 67.4h0M675.5 64.4h0M675.5 67.4h0M676.5 71.4h0M677.5 67.4h0M678.5 71.4h0M679.5 71.4h0M680.5 67.4h0M681.5 71.4h0M681.5 71.4h0M682.5 67.4h0M683.5 71.4h0M684.5 71.4h0M685.5 67.4h0M686.5 71.4h0M687.5 71.4h0M688.5 71.4h0M688.5 71.4h0M689.5 71.4h0M690.5 71.4h0M691.5 43.4h0M692.5 40.4h0M693.5 36.4h0M694.5 33.4h0M694.5 29.4h0M695.5 29.4h0M696.5 29.4h0M697.5 29.4h0M698.5 40.4h0M699.5 47.4h0M700.5 50.4h0M700.5 54.4h0M701.5 54.4h0M702.5 54.4h0M703.5 57.4h0M704.5 57.4h0M705.5 57.4h0M706.5 60.4h0M707.5 57.4h0M707.5 57.4h0M708.5 60.4h0M709.5 60.4h0M710.5 64.4h0M711.5 60.4h0M712.5 60.4h0M713.5 64.4h0M713.5 60.4h0M714.5 64.4h0M715.5 60.4h0M716.5 57.4h0M717.5 43.4h0M718.5 36.4h0M719.5 50.4h0M720.5 57.4h0M720.5 60.4h0M721.5 64.4h0M722.5 64.4h0M723.5 64.4h0M724.5 67.4h0M725.5 67.4h0M726.5 71.4h0M726.5 71.4h0M727.5 71.4h0M728.5 71.4h0M729.5 67.4h0M730.5 67.4h0M731.5 71.4h0M732.5 67.4h0M733.5 71.4h0M733.5 71.4h0M734.5 74.4h0M735.5 71.4h0M736.5 71.4h0M737.5 67.4h0M738.5 71.4h0M739.5 74.4h0M739.5 71.4h0M740.5 71.4h0M741.5 71.4h0M742.5 71.4h0M743.5 43.4h0M744.5 43.4h0M745.5 33.4h0M746.5 29.4h0M746.5 29.4h0M747.5 29.4h0M748.5 33.4h0M749.5 26.4h0M750.5 36.4h0M751.5 50.4h0M752.5 50.4h0M752.5 54.4h0M753.5 50.4h0M754.5 54.4h0M755.5 54.4h0M756.5 57.4h0M757.5 57.4h0M758.5 64.4h0M759.5 57.4h0M759.5 60.4h0M760.5 57.4h0M761.5 60.4h0M762.5 64.4h0M763.5 60.4h0M764.5 64.4h0M765.5 60.4h0M765.5 64.4h0M766.5 64.4h0M767.5 64.4h0M768.5 60.4h0M769.5 43.4h0M770.5 36.4h0M771.5 50.4h0M772.5 57.4h0M772.5 60.4h0M773.5 64.4h0M774.5 67.4h0M775.5 67.4h0M776.5 67.4h0M777.5 67.4h0M778.5 71.4h0M778.5 71.4h0M779.5 71.4h0M780.5 74.4h0M781.5 71.4h0M782.5 71.4h0M783.5 71.4h0M784.5 71.4h0M785.5 74.4h0M785.5 74.4h0M786.5 71.4h0M787.5 71.4h0M788.5 71.4h0M789.5 71.4h0M790.5 78.4h0M791.5 74.4h0M791.5 71.4h0M792.5 71.4h0M793.5 71.4h0M794.5 71.4h0M795.5 43.4h0M796.5 40.4h0M797.5 43.4h0M798.5 40.4h0M798.5 29.4h0M799.5 29.4h0M800.5 29.4h0M801.5 36.4h0M802.5 40.4h0M803.5 54.4h0M804.5 57.4h0M804.5 57.4h0M805.5 57.4h0M806.5 57.4h0M807.5 57.4h0M808.5 57.4h0M809.5 60.4h0M810.5 64.4h0M811.5 64.4h0M811.5 64.4h0M812.5 64.4h0M813.5 64.4h0M814.5 60.4h0M815.5 57.4h0M816.5 60.4h0M817.5 64.4h0M817.5 60.4h0M818.5 54.4h0M819.5 64.4h0M820.5 64.4h0M821.5 43.4h0M822.5 47.4h0M823.5 36.4h0M824.5 54.4h0M824.5 57.4h0M825.5 60.4h0M826.5 64.4h0M827.5 64.4h0M828.5 64.4h0M829.5 67.4h0M830.5 71.4h0M830.5 71.4h0M831.5 71.4h0M832.5 71.4h0M833.5 71.4h0M834.5 74.4h0M835.5 71.4h0M836.5 74.4h0M837.5 71.4h0M837.5 74.4h0M838.5 71.4h0M839.5 78.4h0M840.5 74.4h0M841.5 78.4h0M842.5 71.4h0M843.5 71.4h0M843.5 71.4h0M844.5 71.4h0M845.5 71.4h0M846.5 71.4h0M847.5 40.4h0M848.5 36.4h0M849.5 40.4h0M850.5 29.4h0M850.5 33.4h0M851.5 29.4h0M852.5 29.4h0M853.5 29.4h0M854.5 36.4h0M855.5 50.4h0M856.5 54.4h0M856.5 54.4h0M857.5 57.4h0M858.5 54.4h0M859.5 57.4h0M860.5 60.4h0M861.5 57.4h0M862.5 57.4h0M863.5 64.4h0M863.5 60.4h0M864.5 60.4h0M865.5 64.4h0M866.5 60.4h0M867.5 67.4h0M868.5 60.4h0M869.5 64.4h0M869.5 60.4h0M870.5 64.4h0M871.5 60.4h0M872.5 64.4h0M873.5 43.4h0M874.5 43.4h0M875.5 40.4h0M876.5 50.4h0M876.5 57.4h0M877.5 64.4h0M878.5 64.4h0M879.5 64.4h0M880.5 67.4h0M881.5 64.4h0M882.5 67.4h0M882.5 71.4h0M883.5 67.4h0M884.5 71.4h0M885.5 67.4h0M886.5 74.4h0M887.5 71.4h0M888.5 71.4h0M889.5 74.4h0M889.5 71.4h0M890.5 74.4h0M891.5 71.4h0M892.5 74.4h0M893.5 71.4h0M894.5 71.4h0M895.5 74.4h0M895.5 71.4h0M896.5 74.4h0M897.5 71.4h0M898.5 71.4h0M899.5 50.4h0M900.5 43.4h0M901.5 36.4h0M901.5 36.4h0M902.5 36.4h0M903.5 36.4h0M904.5 29.4h0M905.5 26.4h0M906.5 36.4h0M907.5 50.4h0M908.5 57.4h0M908.5 54.4h0M909.5 57.4h0M910.5 57.4h0M911.5 60.4h0M912.5 57.4h0M913.5 60.4h0M914.5 60.4h0M914.5 60.4h0M915.5 64.4h0M916.5 60.4h0M917.5 64.4h0M918.5 64.4h0M919.5 64.4h0M920.5 64.4h0M921.5 64.4h0M921.5 67.4h0M922.5 64.4h0M923.5 64.4h0M924.5 64.4h0M925.5 50.4h0M926.5 47.4h0M927.5 36.4h0M927.5 54.4h0M928.5 54.4h0M929.5 60.4h0M930.5 57.4h0M931.5 64.4h0M932.5 67.4h0M933.5 67.4h0M934.5 67.4h0M934.5 71.4h0M935.5 71.4h0M936.5 71.4h0M937.5 71.4h0M938.5 74.4h0M939.5 71.4h0M940.5 71.4h0M940.5 74.4h0M941.5 71.4h0M942.5 74.4h0M943.5 74.4h0M944.5 71.4h0M945.5 74.4h0M946.5 74.4h0M947.5 71.4h0M947.5 74.4h0M948.5 74.4h0M949.5 71.4h0M950.5 71.4h0M951.5 50.4h0M952.5 50.4h0M953.5 50.4h0M953.5 40.4h0M954.5 33.4h0M955.5 33.4h0M956.5 29.4h0M957.5 33.4h0M958.5 33.4h0M959.5 54.4h0M960.5 54.4h0M960.5 57.4h0M961.5 64.4h0M962.5 60.4h0M963.5 64.4h0M964.5 60.4h0M965.5 60.4h0M966.5 67.4h0M966.5 60.4h0M967.5 64.4h0M968.5 71.4h0M969.5 60.4h0M970.5 60.4h0M971.5 64.4h0M972.5 64.4h0M973.5 67.4h0M973.5 64.4h0M974.5 67.4h0M975.5 67.4h0M976.5 64.4h0M977.5 43.4h0M978.5 50.4h0M979.5 47.4h0M979.5 36.4h0M980.5 60.4h0M981.5 60.4h0M982.5 64.4h0M983.5 67.4h0M984.5 67.4h0M985.5 71.4h0M986.5 71.4h0M986.5 71.4h0M987.5 71.4h0M988.5 74.4h0M989.5 71.4h0M990.5 74.4h0M991.5 78.4h0M992.5 74.4h0M992.5 78.4h0M993.5 78.4h0M994.5 74.4h0M995.5 78.4h0M996.5 74.4h0M997.5 74.4h0M998.5 78.4h0M999.5 74.4h0M999.5 78.4h0M1000.5 74.4h0M1001.5 78.4h0M1002.5 74.4h0M1003.5 43.4h0M1004.5 43.4h0M1005.5 43.4h0M1005.5 40.4h0M1006.5 40.4h0M1007.5 36.4h0M1008.5 36.4h0M1009.5 36.4h0M1010.5 40.4h0M1011.5 50.4h0M1012.5 57.4h0M1012.5 64.4h0M1013.5 64.4h0M1014.5 64.4h0M1015.5 64.4h0M1016.5 67.4h0M1017.5 64.4h0M1018.5 67.4h0M1018.5 67.4h0M1019.5 71.4h0M1020.5 67.4h0M1021.5 71.4h0M1022.5 71.4h0M1023.5 71.4h0M1024.5 64.4h0M1025.5 71.4h0M1025.5 67.4h0M1026.5 71.4h0M1027.5 71.4h0M1028.5 71.4h0M1029.5 57.4h0M1030.5 54.4h0M1031.5 47.4h0M1031.5 43.4h0M1032.5 43.4h0M1033.5 67.4h0M1034.5 71.4h0M1035.5 74.4h0M1036.5 78.4h0M1037.5 78.4h0M1038.5 81.4h0M1038.5 81.4h0" fill="none" stroke="#008000" stroke-width="3.12" stroke-linecap="round"/>
</g>
<path d="M66.5 147.5v5M222.5 147.5v5M378.5 147.5v5M534.5 147.5v5M690.5 147.5v5M846.5 147.5v5M1002.5 147.5v5M1158.5 147.5v5M1314.5 147.5v5" stroke="#000" stroke-width="1.11" fill="none"/>
<rect x="61.5" y="34" width="5" height="1" fill="#000"/><rect x="61.5" y="33" width="5" height="3" fill="#000" fill-opacity="0.055"/>
<rect x="61.5" y="99" width="5" height="1" fill="#000"/><rect x="61.5" y="98" width="5" height="3" fill="#000" fill-opacity="0.055"/>
<rect x="66.5" y="9.5" width="1248" height="138" fill="none" stroke="#000" stroke-width="1.11"/>
<text x="34.88 43.62 52.38 57 65.75 74.5 79.12 89.25" y="167.5">00:00 UT</text>
<text x="191 199.75 208.5 213.12 221.88 230.62 235 245.12" y="167.5">03:00 UT</text>
<text x="346 354.75 363.62 368.25 377 385.75 390.12 400.25" y="167.5">06:00 UT</text>
<text x="502 510.75 519.62 524.25 533 541.75 546.12 556.25" y="167.5">09:00 UT</text>
<text x="658 666.88 675.62 680.25 689 697.75 702.12 712.25" y="167.5">12:00 UT</text>
<text x="814 822.88 831.62 836.25 845 853.75 858.12 868.25" y="167.5">15:00 UT</text>
<text x="970 978.88 987.75 992.38 1001.12 1009.88 1014.25 1024.38" y="167.5">18:00 UT</text>
<text x="1126 1134.75 1143.62 1148.25 1157 1165.75 1170.12 1180.25" y="167.5">21:00 UT</text>
<text x="1281.88 1290.62 1299.38 1304 1312.75 1321.5 1326.12 1336.25" y="167.5">00:00 UT</text>
<text x="38.88 47.12" y="39.5">40</text>
<text x="38.75 46.75" y="105">30</text>
<text transform="rotate(-90)"><tspan x="-126 -117 -108 -98 -94 -83 -74 -64 -60" y="28.5">CPU/GPU (</tspan><tspan x="-54" y="22.5" font-size="9.72">∘</tspan><tspan x="-48 -38" y="28.5">C)</tspan></text>
<rect x="1230.5" y="16.5" width="77" height="46" rx="2.6" fill="#fff" fill-opacity="0.8" stroke="#ccc" stroke-opacity="0.8" stroke-width="1.39"/>
<rect x="1233.5" y="15" width="71" height="3" fill="#ccc" fill-opacity="0.07"/>
<rect x="1233.5" y="61" width="71" height="3" fill="#ccc" fill-opacity="0.07"/>
<path d="M1236.22 28.5h27.56" stroke="#ff0000" stroke-width="0.56" fill="none"/>
<path d="M1250.5 28.4h0" stroke="#ff0000" stroke-width="3.12" stroke-linecap="round" fill="none"/>
<text x="1274.5 1281.62 1290.5" y="32.5">cpu</text>
<path d="M1236.22 49.5h27.56" stroke="#008000" stroke-width="0.56" fill="none"/>
<path d="M1250.5 49.4h0" stroke="#008000" stroke-width="3.12" stroke-linecap="round" fill="none"/>
<text x="1274.38 1282.75 1291.62" y="53.5">gpu</text>
</g>
<g>
<path d="M222.5 174.5V311.5M378.5 174.5V311.5M534.5 174.5V311.5M690.5 174.5V311.5M846.5 174.5V311.5M1002.5 174.5V311.5M1158.5 174.5V311.5" stroke="#b0b0b0" stroke-width="1.11" fill="none"/>
<rect x="66.5" y="209" width="1248" height="1" fill="#b0b0b0"/><rect x="66.5" y="208" width="1248" height="3" fill="#b0b0b0" fill-opacity="0.065"/>
<rect x="66.5" y="258" width="1248" height="1" fill="#b0b0b0"/><rect x="66.5" y="257" width="1248" height="3" fill="#b0b0b0" fill-opacity="0.065"/>
<rect x="66.5" y="306" width="1248" height="1" fill="#b0b0b0"/><rect x="66.5" y="305" width="1248" height="3" fill="#b0b0b0" fill-opacity="0.065"/>
<clipPath id="c1"><rect x="66.5" y="174.5" width="1248" height="137"/></clipPath>
<g clip-path="url(#c1)">
<path d="M415.09 305.22L415.95 301.36L416.82 296.33L417.69 289.7L418.55 281.4L419.42 272.49L420.28 263.96L421.15 257.54L422.02 252.62L422.88 248.18L423.75 244.12L424.62 240.17L425.48 237.33L426.35 234.69L427.22 232.13L428.08 230.2L428.95 227.79L429.81 225.84L430.68 223.44L431.55 220.11L432.41 217.28L433.28 214.25L434.15 210.17L435.01 206.28L435.88 203.01L436.75 200.28L437.61 198.05L438.48 195.63L439.34 193.51L440.21 192.62L441.08 192.11L441.94 192.23L442.81 192.16L443.68 192.1L444.54 192.08L445.41 192.16L446.28 191.79L447.14 190.92L448.01 190.35L448.87 190.22L449.74 189.69L450.61 189.97L451.47 190.06L452.34 190.38L453.21 190.37L454.07 190.48L454.94 190.63L455.81 190.39L456.67 189.4L457.54 187.63L458.41 185.76L459.27 183.97L460.14 182.64L461 182.01L461.87 181.8L462.74 181.39L463.6 181.43L464.47 182.1L465.34 182.88L466.2 184.82L467.07 186.42L467.94 187.56L468.8 187.8L469.67 188.01L470.53 188.81L471.4 189.86L472.27 190.85L473.13 191.63L474 192.13L474.87 192.79L475.73 192.85L476.6 193.36L477.47 193.77L478.33 193.72L479.2 193.97L480.06 193.81L480.93 193.77L481.8 193.49L482.66 192.72L483.53 191.24L484.4 189.22L485.26 188.16L486.13 187.35L487 186.33L487.86 185.43L488.73 184.53L489.59 184.2L490.46 183.89L491.33 184.23L492.19 185.54L493.06 187.01L493.93 188.56L494.79 189.75L495.66 191.31L496.53 191.99L497.39 192.46L498.26 192.61L499.12 192.91L499.99 193.02L500.86 192.93L501.72 192.71L502.59 192.56L503.46 192.78L504.32 192.42L505.19 192.4L506.06 192.14L506.92 192.08L507.79 191.64L508.66 191.32L509.52 190.81L510.39 189.52L511.25 187.35L512.12 185.33L512.99 184.31L513.85 184.1L514.72 185.02L515.59 186.32L516.45 188.13L517.32 189.34L518.19 190.56L519.05 191.82L519.92 193L520.78 193.78L521.65 194.47L522.52 195.13L523.38 195.78L524.25 196.26L525.12 196.89L525.98 197.68L526.85 198.22L527.72 198.66L528.58 198.65L529.45 199.15L530.31 199.29L531.18 199.66L532.05 199.37L532.91 199.68L533.78 199.28L534.65 199.1L535.51 198.77L536.38 197.43L537.25 195.63L538.11 193.13L538.98 190.77L539.84 188.67L540.71 186L541.58 183.82L542.44 182.23L543.31 181.74L544.18 182.72L545.04 183.85L545.91 184.92L546.78 185.6L547.64 186.24L548.51 187.12L549.38 187.74L550.24 188.13L551.11 188.21L551.97 188.76L552.84 189.58L553.71 189.91L554.57 190.91L555.44 191.49L556.31 191.52L557.17 191.86L558.04 192.97L558.91 193.77L559.77 194.65L560.64 195.8L561.5 197.21L562.37 197.75L563.24 197.81L564.1 198.03L564.97 198.07L565.84 198.98L566.7 200.32L567.57 201.62L568.44 203.43L569.3 205.19L570.17 207.26L571.03 208.28L571.9 209.67L572.77 210.3L573.63 211.12L574.5 211.72L575.37 212L576.23 212.54L577.1 213.36L577.97 213.31L578.83 213.77L579.7 213.68L580.56 214.01L581.43 214.57L582.3 214.81L583.16 215.56L584.03 216.25L584.9 216.72L585.76 217.22L586.63 216.76L587.5 215.79L588.36 214.09L589.23 212.67L590.1 210.93L590.96 209.01L591.83 207.07L592.69 205.11L593.56 203.57L594.43 202.11L595.29 201.44L596.16 201.13L597.03 201.77L597.89 203.05L598.76 205.02L599.63 206.64L600.49 209.01L601.36 212.05L602.22 215.25L603.09 217.45L603.96 219.26L604.82 220.5L605.69 222.04L606.56 222.89L607.42 223.83L608.29 224.58L609.16 225.11L610.02 225.47L610.89 226.01L611.75 226.46L612.62 226.56L613.49 226.24L614.35 225.67L615.22 224.68L616.09 224.09L616.95 223.8L617.82 224.21L618.69 225.22L619.55 226.2L620.42 227.28L621.28 228.18L622.15 228.98L623.02 230.19L623.88 230.76L624.75 231.72L625.62 232.5L626.48 233.2L627.35 233.85L628.22 234.54L629.08 235.29L629.95 235.69L630.82 236.28L631.68 236.81L632.55 237.3L633.41 237.96L634.28 237.97L635.15 237.63L636.01 237.85L636.88 237.58L637.75 237.54L638.61 237.19L639.48 236.29L640.35 234.48L641.21 231.39L642.08 228.78L642.94 226.44L643.81 224.37L644.68 221.87L645.54 219.95L646.41 218.39L647.28 217.66L648.14 217.22L649.01 217.81L649.88 218.52L650.74 219.55L651.61 220.4L652.47 221.11L653.34 222.04L654.21 222.68L655.07 222.76L655.94 223.24L656.81 223.86L657.67 224.16L658.54 224.36L659.41 224.33L660.27 224.68L661.14 225.15L662 225.88L662.87 226.53L663.74 227.22L664.6 227.32L665.47 227.65L666.34 227.79L667.2 227.37L668.07 226.64L668.94 226.18L669.8 225.97L670.67 226.73L671.53 227.5L672.4 228.55L673.27 229.82L674.13 230.59L675 231.83L675.87 232.61L676.73 233.59L677.6 234.85L678.47 235.75L679.33 236.28L680.2 236.97L681.07 237.95L681.93 238.5L682.8 239.44L683.66 240.52L684.53 241.3L685.4 241.56L686.26 242.18L687.13 243.15L688 243.55L688.86 244.15L689.73 244.42L690.6 244.16L691.46 243L692.33 240.83L693.19 238.3L694.06 236.35L694.93 234.4L695.79 232.2L696.66 230.09L697.53 228.19L698.39 227.02L699.26 226.45L700.13 226.72L700.99 227.32L701.86 228.17L702.72 228.8L703.59 229.65L704.46 230.67L705.32 231.72L706.19 232.41L707.06 233.34L707.92 234.06L708.79 234.36L709.66 235.24L710.52 235.55L711.39 236.16L712.25 236.83L713.12 237.04L713.99 237.22L714.85 237.57L715.72 237.5L716.59 237.63L717.45 237.13L718.32 236.16L719.19 235.08L720.05 233.8L720.92 232.91L721.79 232.51L722.65 233.25L723.52 233.48L724.38 234.85L725.25 235.65L726.12 236.7L726.98 237.82L727.85 238.34L728.72 238.61L729.58 239.13L730.45 239.1L731.32 239.78L732.18 239.97L733.05 240.01L733.91 240.3L734.78 240.17L735.65 240.63L736.51 240.67L737.38 240.51L738.25 240.7L739.11 240.89L739.98 241.16L740.85 241.14L741.71 241.07L742.58 240.92L743.44 239.94L744.31 238.34L745.18 235.6L746.04 233.2L746.91 231.06L747.78 228.52L748.64 226.6L749.51 224.3L750.38 223.07L751.24 222.47L752.11 221.97L752.97 222.74L753.84 223.91L754.71 225.28L755.57 226.42L756.44 228.13L757.31 229.94L758.17 231.42L759.04 232.85L759.91 233.64L760.77 234L761.64 234.86L762.51 235.87L763.37 236.41L764.24 237.08L765.1 237.52L765.97 237.79L766.84 238.33L767.7 238.48L768.57 238.99L769.44 238.51L770.3 238.2L771.17 236.78L772.04 236.25L772.9 235.31L773.77 235.22L774.63 235.84L775.5 237L776.37 238.77L777.23 239.87L778.1 240.63L778.97 241.64L779.83 242.23L780.7 243.01L781.57 243.72L782.43 244.3L783.3 244.58L784.16 245.11L785.03 245.71L785.9 246.17L786.76 246.69L787.63 246.85L788.5 247.25L789.36 247.32L790.23 247.52L791.1 247.85L791.96 247.94L792.83 248.18L793.69 248.31L794.56 248.07L795.43 246.53L796.29 244.79L797.16 242.65L798.03 240.51L798.89 238.67L799.76 236.64L800.63 234.93L801.49 233.67L802.36 232.38L803.23 231.95L804.09 232.6L804.96 233.34L805.82 233.98L806.69 234.8L807.56 235.76L808.42 236.78L809.29 237.9L810.16 239.15L811.02 239.63L811.89 240.75L812.76 241.28L813.62 241.7L814.49 242.36L815.35 242.96L816.22 243.2L817.09 243.56L817.95 243.9L818.82 244.29L819.69 244.37L820.55 243.82L821.42 243.12L822.29 242.31L823.15 241.17L824.02 240.01L824.88 239.19L825.75 238.83L826.62 238.48L827.48 239.15L828.35 240.23L829.22 240.94L830.08 242.21L830.95 243.55L831.82 244.97L832.68 246.32L833.55 247.22L834.41 248.71L835.28 249.45L836.15 249.94L837.01 250.22L837.88 250.42L838.75 250.45L839.61 249.79L840.48 249.86L841.35 250.62L842.21 251.24L843.08 251.34L843.94 251.44L844.81 251.8L845.68 251.9L846.54 251.53L847.41 251.18L848.28 249.19L849.14 246.92L850.01 244.1L850.88 241.61L851.74 239.52L852.61 237.54L853.48 234.92L854.34 232.79L855.21 231.38L856.07 231.7L856.94 232.31L857.81 233.45L858.67 234.76L859.54 236.16L860.41 236.91L861.27 237.75L862.14 238.13L863.01 238.35L863.87 238.6L864.74 239.15L865.6 239.25L866.47 239.78L867.34 239.92L868.2 240.58L869.07 240.6L869.94 240.97L870.8 240.74L871.67 240.39L872.54 240.56L873.4 239.93L874.27 239.72L875.13 239.3L876 238.38L876.87 237.9L877.73 237.74L878.6 237.64L879.47 238.01L880.33 239.01L881.2 240.28L882.07 241.66L882.93 242.41L883.8 243.43L884.66 244.39L885.53 245.4L886.4 246.3L887.26 247.27L888.13 247.85L889 248L889.86 248.47L890.73 248.86L891.6 249.15L892.46 249.33L893.33 249.65L894.2 250.4L895.06 250.35L895.93 250.61L896.79 250.85L897.66 250.8L898.53 250.51L899.39 250.09L900.26 248.6L901.13 245.99L901.99 243.84L902.86 241.46L903.73 239.23L904.59 237.38L905.46 235.23L906.32 233.33L907.19 232.79L908.06 232.72L908.92 233.4L909.79 234.64L910.66 235.62L911.52 236.82L912.39 237.6L913.26 238.54L914.12 239.42L914.99 239.9L915.85 240.2L916.72 240.58L917.59 241.15L918.45 241.55L919.32 242.35L920.19 242.58L921.05 243.43L921.92 243.52L922.79 244.16L923.65 244.4L924.52 244.04L925.38 244.01L926.25 243.82L927.12 243.09L927.98 242.3L928.85 242.1L929.72 241.49L930.58 241.25L931.45 241.85L932.32 243.27L933.18 244.67L934.05 246.68L934.92 247.95L935.78 249.1L936.65 250.58L937.51 251.23L938.38 251.98L939.25 252.14L940.11 252.71L940.98 253.35L941.85 253.62L942.71 254.42L943.58 255.11L944.45 256.25L945.31 256.81L946.18 257.48L947.04 257.94L947.91 258.22L948.78 258.51L949.64 258.61L950.51 258.28L951.38 257.57L952.24 256.04L953.11 253.89L953.98 251.85L954.84 250.21L955.71 248.11L956.57 246.5L957.44 244.8L958.31 243.45L959.17 242.14L960.04 242.17L960.91 242.68L961.77 243.9L962.64 245.23L963.51 246.09L964.37 247.2L965.24 247.76L966.1 248.32L966.97 248.63L967.84 248.95L968.7 249.63L969.57 249.78L970.44 249.89L971.3 250.23L972.17 250.31L973.04 250.24L973.9 250.7L974.77 250.95L975.64 250.99L976.5 250.83L977.37 250.78L978.23 250.27L979.1 249.76L979.97 249.29L980.83 249.02L981.7 248.71L982.57 249L983.43 249.82L984.3 250.5L985.17 251.9L986.03 253.24L986.9 254.68L987.76 256.46L988.63 257.8L989.5 259.32L990.36 260.69L991.23 261.14L992.1 261.56L992.96 262.26L993.83 262.33L994.7 263.3L995.56 263.57L996.43 264.05L997.29 264.84L998.16 265.42L999.03 266.28L999.89 266.25L1000.76 266.56L1001.63 267.07L1002.49 266.96L1003.36 266.52L1004.23 265.37L1005.09 263.38L1005.96 261.66L1006.82 259.58L1007.69 257.74L1008.56 256.18L1009.42 255.44L1010.29 254.42L1011.16 254.29L1012.02 254.81L1012.89 256.1L1013.76 257.93L1014.62 259.94L1015.49 262.27L1016.36 264.44L1017.22 266.63L1018.09 268.33L1018.95 269.43L1019.82 270.53L1020.69 271.99L1021.55 273.11L1022.42 274.74L1023.29 275.85L1024.15 277.13L1025.02 278.01L1025.89 278.66L1026.75 280.01L1027.62 280.72L1028.48 281.65L1029.35 282.71L1030.22 283.7L1031.08 284.3L1031.95 284.37L1032.82 284.1L1033.68 284.21L1034.55 284.1L1035.42 284.57L1036.28 285.65L1037.15 287.56L1038.01 289.22" fill="none" stroke="#0000ff" stroke-width="0.56" stroke-linejoin="round"/>
<path d="M415.5 305.4h0M416.5 301.4h0M417.5 296.4h0M418.5 290.4h0M419.5 281.4h0M419.5 272.4h0M420.5 264.4h0M421.5 258.4h0M422.5 253.4h0M423.5 248.4h0M424.5 244.4h0M425.5 240.4h0M425.5 237.4h0M426.5 235.4h0M427.5 232.4h0M428.5 230.4h0M429.5 228.4h0M430.5 226.4h0M431.5 223.4h0M432.5 220.4h0M432.5 217.4h0M433.5 214.4h0M434.5 210.4h0M435.5 206.4h0M436.5 203.4h0M437.5 200.4h0M438.5 198.4h0M438.5 196.4h0M439.5 194.4h0M440.5 193.4h0M441.5 192.4h0M442.5 192.4h0M443.5 192.4h0M444.5 192.4h0M445.5 192.4h0M445.5 192.4h0M446.5 192.4h0M447.5 191.4h0M448.5 190.4h0M449.5 190.4h0M450.5 190.4h0M451.5 190.4h0M451.5 190.4h0M452.5 190.4h0M453.5 190.4h0M454.5 190.4h0M455.5 191.4h0M456.5 190.4h0M457.5 189.4h0M458.5 188.4h0M458.5 186.4h0M459.5 184.4h0M460.5 183.4h0M461.5 182.4h0M462.5 182.4h0M463.5 181.4h0M464.5 181.4h0M464.5 182.4h0M465.5 183.4h0M466.5 185.4h0M467.5 186.4h0M468.5 188.4h0M469.5 188.4h0M470.5 188.4h0M471.5 189.4h0M471.5 190.4h0M472.5 191.4h0M473.5 192.4h0M474.5 192.4h0M475.5 193.4h0M476.5 193.4h0M477.5 193.4h0M477.5 194.4h0M478.5 194.4h0M479.5 194.4h0M480.5 194.4h0M481.5 194.4h0M482.5 193.4h0M483.5 193.4h0M484.5 191.4h0M484.5 189.4h0M485.5 188.4h0M486.5 187.4h0M487.5 186.4h0M488.5 185.4h0M489.5 185.4h0M490.5 184.4h0M490.5 184.4h0M491.5 184.4h0M492.5 186.4h0M493.5 187.4h0M494.5 189.4h0M495.5 190.4h0M496.5 191.4h0M497.5 192.4h0M497.5 192.4h0M498.5 193.4h0M499.5 193.4h0M500.5 193.4h0M501.5 193.4h0M502.5 193.4h0M503.5 193.4h0M503.5 193.4h0M504.5 192.4h0M505.5 192.4h0M506.5 192.4h0M507.5 192.4h0M508.5 192.4h0M509.5 191.4h0M510.5 191.4h0M510.5 190.4h0M511.5 187.4h0M512.5 185.4h0M513.5 184.4h0M514.5 184.4h0M515.5 185.4h0M516.5 186.4h0M516.5 188.4h0M517.5 189.4h0M518.5 191.4h0M519.5 192.4h0M520.5 193.4h0M521.5 194.4h0M522.5 194.4h0M523.5 195.4h0M523.5 196.4h0M524.5 196.4h0M525.5 197.4h0M526.5 198.4h0M527.5 198.4h0M528.5 199.4h0M529.5 199.4h0M529.5 199.4h0M530.5 199.4h0M531.5 200.4h0M532.5 199.4h0M533.5 200.4h0M534.5 199.4h0M535.5 199.4h0M536.5 199.4h0M536.5 197.4h0M537.5 196.4h0M538.5 193.4h0M539.5 191.4h0M540.5 189.4h0M541.5 186.4h0M542.5 184.4h0M542.5 182.4h0M543.5 182.4h0M544.5 183.4h0M545.5 184.4h0M546.5 185.4h0M547.5 186.4h0M548.5 186.4h0M549.5 187.4h0M549.5 188.4h0M550.5 188.4h0M551.5 188.4h0M552.5 189.4h0M553.5 190.4h0M554.5 190.4h0M555.5 191.4h0M555.5 191.4h0M556.5 192.4h0M557.5 192.4h0M558.5 193.4h0M559.5 194.4h0M560.5 195.4h0M561.5 196.4h0M562.5 197.4h0M562.5 198.4h0M563.5 198.4h0M564.5 198.4h0M565.5 198.4h0M566.5 199.4h0M567.5 200.4h0M568.5 202.4h0M568.5 203.4h0M569.5 205.4h0M570.5 207.4h0M571.5 208.4h0M572.5 210.4h0M573.5 210.4h0M574.5 211.4h0M575.5 212.4h0M575.5 212.4h0M576.5 213.4h0M577.5 213.4h0M578.5 213.4h0M579.5 214.4h0M580.5 214.4h0M581.5 214.4h0M581.5 215.4h0M582.5 215.4h0M583.5 216.4h0M584.5 216.4h0M585.5 217.4h0M586.5 217.4h0M587.5 217.4h0M587.5 216.4h0M588.5 214.4h0M589.5 213.4h0M590.5 211.4h0M591.5 209.4h0M592.5 207.4h0M593.5 205.4h0M594.5 204.4h0M594.5 202.4h0M595.5 201.4h0M596.5 201.4h0M597.5 202.4h0M598.5 203.4h0M599.5 205.4h0M600.5 207.4h0M600.5 209.4h0M601.5 212.4h0M602.5 215.4h0M603.5 217.4h0M604.5 219.4h0M605.5 220.4h0M606.5 222.4h0M607.5 223.4h0M607.5 224.4h0M608.5 225.4h0M609.5 225.4h0M610.5 225.4h0M611.5 226.4h0M612.5 226.4h0M613.5 227.4h0M613.5 226.4h0M614.5 226.4h0M615.5 225.4h0M616.5 224.4h0M617.5 224.4h0M618.5 224.4h0M619.5 225.4h0M620.5 226.4h0M620.5 227.4h0M621.5 228.4h0M622.5 229.4h0M623.5 230.4h0M624.5 231.4h0M625.5 232.4h0M626.5 232.4h0M626.5 233.4h0M627.5 234.4h0M628.5 235.4h0M629.5 235.4h0M630.5 236.4h0M631.5 236.4h0M632.5 237.4h0M633.5 237.4h0M633.5 238.4h0M634.5 238.4h0M635.5 238.4h0M636.5 238.4h0M637.5 238.4h0M638.5 238.4h0M639.5 237.4h0M639.5 236.4h0M640.5 234.4h0M641.5 231.4h0M642.5 229.4h0M643.5 226.4h0M644.5 224.4h0M645.5 222.4h0M646.5 220.4h0M646.5 218.4h0M647.5 218.4h0M648.5 217.4h0M649.5 218.4h0M650.5 219.4h0M651.5 220.4h0M652.5 220.4h0M652.5 221.4h0M653.5 222.4h0M654.5 223.4h0M655.5 223.4h0M656.5 223.4h0M657.5 224.4h0M658.5 224.4h0M659.5 224.4h0M659.5 224.4h0M660.5 225.4h0M661.5 225.4h0M662.5 226.4h0M663.5 227.4h0M664.5 227.4h0M665.5 227.4h0M665.5 228.4h0M666.5 228.4h0M667.5 227.4h0M668.5 227.4h0M669.5 226.4h0M670.5 226.4h0M671.5 227.4h0M672.5 228.4h0M672.5 229.4h0M673.5 230.4h0M674.5 231.4h0M675.5 232.4h0M676.5 233.4h0M677.5 234.4h0M678.5 235.4h0M678.5 236.4h0M679.5 236.4h0M680.5 237.4h0M681.5 238.4h0M682.5 239.4h0M683.5 239.4h0M684.5 241.4h0M685.5 241.4h0M685.5 242.4h0M686.5 242.4h0M687.5 243.4h0M688.5 244.4h0M689.5 244.4h0M690.5 244.4h0M691.5 244.4h0M691.5 243.4h0M692.5 241.4h0M693.5 238.4h0M694.5 236.4h0M695.5 234.4h0M696.5 232.4h0M697.5 230.4h0M698.5 228.4h0M698.5 227.4h0M699.5 226.4h0M700.5 227.4h0M701.5 227.4h0M702.5 228.4h0M703.5 229.4h0M704.5 230.4h0M704.5 231.4h0M705.5 232.4h0M706.5 232.4h0M707.5 233.4h0M708.5 234.4h0M709.5 234.4h0M710.5 235.4h0M711.5 236.4h0M711.5 236.4h0M712.5 237.4h0M713.5 237.4h0M714.5 237.4h0M715.5 238.4h0M716.5 237.4h0M717.5 238.4h0M717.5 237.4h0M718.5 236.4h0M719.5 235.4h0M720.5 234.4h0M721.5 233.4h0M722.5 233.4h0M723.5 233.4h0M724.5 233.4h0M724.5 235.4h0M725.5 236.4h0M726.5 237.4h0M727.5 238.4h0M728.5 238.4h0M729.5 239.4h0M730.5 239.4h0M730.5 239.4h0M731.5 240.4h0M732.5 240.4h0M733.5 240.4h0M734.5 240.4h0M735.5 240.4h0M736.5 241.4h0M737.5 241.4h0M737.5 241.4h0M738.5 241.4h0M739.5 241.4h0M740.5 241.4h0M741.5 241.4h0M742.5 241.4h0M743.5 241.4h0M743.5 240.4h0M744.5 238.4h0M745.5 236.4h0M746.5 233.4h0M747.5 231.4h0M748.5 229.4h0M749.5 227.4h0M750.5 224.4h0M750.5 223.4h0M751.5 222.4h0M752.5 222.4h0M753.5 223.4h0M754.5 224.4h0M755.5 225.4h0M756.5 226.4h0M756.5 228.4h0M757.5 230.4h0M758.5 231.4h0M759.5 233.4h0M760.5 234.4h0M761.5 234.4h0M762.5 235.4h0M763.5 236.4h0M763.5 236.4h0M764.5 237.4h0M765.5 238.4h0M766.5 238.4h0M767.5 238.4h0M768.5 238.4h0M769.5 239.4h0M769.5 239.4h0M770.5 238.4h0M771.5 237.4h0M772.5 236.4h0M773.5 235.4h0M774.5 235.4h0M775.5 236.4h0M776.5 237.4h0M776.5 239.4h0M777.5 240.4h0M778.5 241.4h0M779.5 242.4h0M780.5 242.4h0M781.5 243.4h0M782.5 244.4h0M782.5 244.4h0M783.5 245.4h0M784.5 245.4h0M785.5 246.4h0M786.5 246.4h0M787.5 247.4h0M788.5 247.4h0M788.5 247.4h0M789.5 247.4h0M790.5 248.4h0M791.5 248.4h0M792.5 248.4h0M793.5 248.4h0M794.5 248.4h0M795.5 248.4h0M795.5 247.4h0M796.5 245.4h0M797.5 243.4h0M798.5 241.4h0M799.5 239.4h0M800.5 237.4h0M801.5 235.4h0M801.5 234.4h0M802.5 232.4h0M803.5 232.4h0M804.5 233.4h0M805.5 233.4h0M806.5 234.4h0M807.5 235.4h0M808.5 236.4h0M808.5 237.4h0M809.5 238.4h0M810.5 239.4h0M811.5 240.4h0M812.5 241.4h0M813.5 241.4h0M814.5 242.4h0M814.5 242.4h0M815.5 243.4h0M816.5 243.4h0M817.5 244.4h0M818.5 244.4h0M819.5 244.4h0M820.5 244.4h0M821.5 244.4h0M821.5 243.4h0M822.5 242.4h0M823.5 241.4h0M824.5 240.4h0M825.5 239.4h0M826.5 239.4h0M827.5 238.4h0M827.5 239.4h0M828.5 240.4h0M829.5 241.4h0M830.5 242.4h0M831.5 244.4h0M832.5 245.4h0M833.5 246.4h0M834.5 247.4h0M834.5 249.4h0M835.5 249.4h0M836.5 250.4h0M837.5 250.4h0M838.5 250.4h0M839.5 250.4h0M840.5 250.4h0M840.5 250.4h0M841.5 251.4h0M842.5 251.4h0M843.5 251.4h0M844.5 251.4h0M845.5 252.4h0M846.5 252.4h0M847.5 252.4h0M847.5 251.4h0M848.5 249.4h0M849.5 247.4h0M850.5 244.4h0M851.5 242.4h0M852.5 240.4h0M853.5 238.4h0M853.5 235.4h0M854.5 233.4h0M855.5 231.4h0M856.5 232.4h0M857.5 232.4h0M858.5 233.4h0M859.5 235.4h0M860.5 236.4h0M860.5 237.4h0M861.5 238.4h0M862.5 238.4h0M863.5 238.4h0M864.5 239.4h0M865.5 239.4h0M866.5 239.4h0M866.5 240.4h0M867.5 240.4h0M868.5 241.4h0M869.5 241.4h0M870.5 241.4h0M871.5 241.4h0M872.5 240.4h0M873.5 241.4h0M873.5 240.4h0M874.5 240.4h0M875.5 239.4h0M876.5 238.4h0M877.5 238.4h0M878.5 238.4h0M879.5 238.4h0M879.5 238.4h0M880.5 239.4h0M881.5 240.4h0M882.5 242.4h0M883.5 242.4h0M884.5 243.4h0M885.5 244.4h0M886.5 245.4h0M886.5 246.4h0M887.5 247.4h0M888.5 248.4h0M889.5 248.4h0M890.5 248.4h0M891.5 249.4h0M892.5 249.4h0M892.5 249.4h0M893.5 250.4h0M894.5 250.4h0M895.5 250.4h0M896.5 251.4h0M897.5 251.4h0M898.5 251.4h0M899.5 251.4h0M899.5 250.4h0M900.5 249.4h0M901.5 246.4h0M902.5 244.4h0M903.5 241.4h0M904.5 239.4h0M905.5 237.4h0M905.5 235.4h0M906.5 233.4h0M907.5 233.4h0M908.5 233.4h0M909.5 233.4h0M910.5 235.4h0M911.5 236.4h0M912.5 237.4h0M912.5 238.4h0M913.5 239.4h0M914.5 239.4h0M915.5 240.4h0M916.5 240.4h0M917.5 241.4h0M918.5 241.4h0M918.5 242.4h0M919.5 242.4h0M920.5 243.4h0M921.5 243.4h0M922.5 244.4h0M923.5 244.4h0M924.5 244.4h0M925.5 244.4h0M925.5 244.4h0M926.5 244.4h0M927.5 243.4h0M928.5 242.4h0M929.5 242.4h0M930.5 241.4h0M931.5 241.4h0M931.5 242.4h0M932.5 243.4h0M933.5 245.4h0M934.5 247.4h0M935.5 248.4h0M936.5 249.4h0M937.5 251.4h0M938.5 251.4h0M938.5 252.4h0M939.5 252.4h0M940.5 253.4h0M941.5 253.4h0M942.5 254.4h0M943.5 254.4h0M944.5 255.4h0M944.5 256.4h0M945.5 257.4h0M946.5 257.4h0M947.5 258.4h0M948.5 258.4h0M949.5 259.4h0M950.5 259.4h0M951.5 258.4h0M951.5 258.4h0M952.5 256.4h0M953.5 254.4h0M954.5 252.4h0M955.5 250.4h0M956.5 248.4h0M957.5 247.4h0M957.5 245.4h0M958.5 243.4h0M959.5 242.4h0M960.5 242.4h0M961.5 243.4h0M962.5 244.4h0M963.5 245.4h0M964.5 246.4h0M964.5 247.4h0M965.5 248.4h0M966.5 248.4h0M967.5 249.4h0M968.5 249.4h0M969.5 250.4h0M970.5 250.4h0M970.5 250.4h0M971.5 250.4h0M972.5 250.4h0M973.5 250.4h0M974.5 251.4h0M975.5 251.4h0M976.5 251.4h0M977.5 251.4h0M977.5 251.4h0M978.5 250.4h0M979.5 250.4h0M980.5 249.4h0M981.5 249.4h0M982.5 249.4h0M983.5 249.4h0M983.5 250.4h0M984.5 250.4h0M985.5 252.4h0M986.5 253.4h0M987.5 255.4h0M988.5 256.4h0M989.5 258.4h0M989.5 259.4h0M990.5 261.4h0M991.5 261.4h0M992.5 262.4h0M993.5 262.4h0M994.5 262.4h0M995.5 263.4h0M996.5 264.4h0M996.5 264.4h0M997.5 265.4h0M998.5 265.4h0M999.5 266.4h0M1000.5 266.4h0M1001.5 267.4h0M1002.5 267.4h0M1002.5 267.4h0M1003.5 267.4h0M1004.5 265.4h0M1005.5 263.4h0M1006.5 262.4h0M1007.5 260.4h0M1008.5 258.4h0M1009.5 256.4h0M1009.5 255.4h0M1010.5 254.4h0M1011.5 254.4h0M1012.5 255.4h0M1013.5 256.4h0M1014.5 258.4h0M1015.5 260.4h0M1015.5 262.4h0M1016.5 264.4h0M1017.5 267.4h0M1018.5 268.4h0M1019.5 269.4h0M1020.5 271.4h0M1021.5 272.4h0M1022.5 273.4h0M1022.5 275.4h0M1023.5 276.4h0M1024.5 277.4h0M1025.5 278.4h0M1026.5 279.4h0M1027.5 280.4h0M1028.5 281.4h0M1028.5 282.4h0M1029.5 283.4h0M1030.5 284.4h0M1031.5 284.4h0M1032.5 284.4h0M1033.5 284.4h0M1034.5 284.4h0M1035.5 284.4h0M1035.5 285.4h0M1036.5 286.4h0M1037.5 288.4h0M1038.5 289.4h0" fill="none" stroke="#0000ff" stroke-width="3.12" stroke-linecap="round"/>
</g>
<path d="M66.5 311.5v5M222.5 311.5v5M378.5 311.5v5M534.5 311.5v5M690.5 311.5v5M846.5 311.5v5M1002.5 311.5v5M1158.5 311.5v5M1314.5 311.5v5" stroke="#000" stroke-width="1.11" fill="none"/>
<rect x="61.5" y="209" width="5" height="1" fill="#000"/><rect x="61.5" y="208" width="5" height="3" fill="#000" fill-opacity="0.055"/>
<rect x="61.5" y="258" width="5" height="1" fill="#000"/><rect x="61.5" y="257" width="5" height="3" fill="#000" fill-opacity="0.055"/>
<rect x="61.5" y="306" width="5" height="1" fill="#000"/><rect x="61.5" y="305" width="5" height="3" fill="#000" fill-opacity="0.055"/>
<rect x="66.5" y="174.5" width="1248" height="137" fill="none" stroke="#000" stroke-width="1.11"/>
<text x="34.88 43.62 52.38 57 65.75 74.5 79.12 89.25" y="332.5">00:00 UT</text>
<text x="191 199.75 208.5 213.12 221.88 230.62 235 245.12" y="332.5">03:00 UT</text>
<text x="346 354.75 363.62 368.25 377 385.75 390.12 400.25" y="332.5">06:00 UT</text>
<text x="502 510.75 519.62 524.25 533 541.75 546.12 556.25" y="332.5">09:00 UT</text>
<text x="658 666.88 675.62 680.25 689 697.75 702.12 712.25" y="332.5">12:00 UT</text>
<text x="814 822.88 831.62 836.25 845 853.75 858.12 868.25" y="332.5">15:00 UT</text>
<text x="970 978.88 987.75 992.38 1001.12 1009.88 1014.25 1024.38" y="332.5">18:00 UT</text>
<text x="1126 1134.75 1143.62 1148.25 1157 1165.75 1170.12 1180.25" y="332.5">21:00 UT</text>
<text x="1281.88 1290.62 1299.38 1304 1312.75 1321.5 1326.12 1336.25" y="332.5">00:00 UT</text>
<text x="38.88 47" y="215">18</text>
<text x="38.88 46.75" y="263.5">16</text>
<text x="38.88 46.75" y="311.5">14</text>
<text transform="rotate(-90)"><tspan x="-305 -297 -288 -275 -266 -258 -252 -243 -238 -229 -223 -215 -211" y="26.5">Temperature (</tspan><tspan x="-205" y="20.5" font-size="9.72">∘</tspan><tspan x="-199 -189" y="26.5">C)</tspan></text>
<rect x="1238.5" y="181.5" width="69" height="25" rx="2.6" fill="#fff" fill-opacity="0.8" stroke="#ccc" stroke-opacity="0.8" stroke-width="1.39"/>
<rect x="1241.5" y="180" width="63" height="3" fill="#ccc" fill-opacity="0.07"/>
<rect x="1241.5" y="205" width="63" height="3" fill="#ccc" fill-opacity="0.07"/>
<path d="M1244.22 193.5h28.56" stroke="#0000ff" stroke-width="0.56" fill="none"/>
<path d="M1258.5 193.4h0" stroke="#0000ff" stroke-width="3.12" stroke-linecap="round" fill="none"/>
<text x="1284 1292.12 1295.5" y="197.5">air</text>
</g>
<g>
<path d="M222.5 339.5V476.5M378.5 339.5V476.5M534.5 339.5V476.5M690.5 339.5V476.5M846.5 339.5V476.5M1002.5 339.5V476.5M1158.5 339.5V476.5" stroke="#b0b0b0" stroke-width="1.11" fill="none"/>
<rect x="66.5" y="369" width="1248" height="1" fill="#b0b0b0"/><rect x="66.5" y="368" width="1248" height="3" fill="#b0b0b0" fill-opacity="0.065"/>
<rect x="66.5" y="405" width="1248" height="1" fill="#b0b0b0"/><rect x="66.5" y="404" width="1248" height="3" fill="#b0b0b0" fill-opacity="0.065"/>
<rect x="66.5" y="441" width="1248" height="1" fill="#b0b0b0"/><rect x="66.5" y="440" width="1248" height="3" fill="#b0b0b0" fill-opacity="0.065"/>
<clipPath id="c2"><rect x="66.5" y="339.5" width="1248" height="137"/></clipPath>
<g clip-path="url(#c2)">
<path d="M415.09 346.14L415.95 349.95L416.82 354.78L417.69 361.59L418.55 369.69L419.42 379.43L420.28 387.06L421.15 391.82L422.02 396.68L422.88 400.63L423.75 404.65L424.62 408.28L425.48 411.56L426.35 414.47L427.22 416.61L428.08 418.5L428.95 419.65L429.81 420.95L430.68 422.61L431.55 424.33L432.41 427.48L433.28 430.12L434.15 432.91L435.01 435.44L435.88 438.11L436.75 440.85L437.61 443.03L438.48 445.37L439.34 447.09L440.21 448.71L441.08 449.44L441.94 449.62L442.81 449.9L443.68 450.5L444.54 450.61L445.41 451.11L446.28 451.45L447.14 451.99L448.01 452.27L448.87 452.65L449.74 452.85L450.61 453.32L451.47 452.97L452.34 453.18L453.21 452.62L454.07 452.36L454.94 452.17L455.81 451.97L456.67 452.46L457.54 453.9L458.41 456.06L459.27 458.26L460.14 459.85L461 460.98L461.87 462.32L462.74 463.18L463.6 463.65L464.47 463.96L465.34 463.48L466.2 462.57L467.07 461.93L467.94 461.06L468.8 459.71L469.67 458.7L470.53 457.73L471.4 456.56L472.27 455.66L473.13 454.97L474 454.61L474.87 453.96L475.73 453.6L476.6 453.23L477.47 453L478.33 453.08L479.2 452.71L480.06 453.1L480.93 452.82L481.8 453.4L482.66 453.53L483.53 454.57L484.4 455.98L485.26 457.86L486.13 459.48L487 460.62L487.86 462.05L488.73 463.44L489.59 464.45L490.46 465.33L491.33 465.87L492.19 465.75L493.06 465.52L493.93 464.28L494.79 463.45L495.66 462.49L496.53 461.73L497.39 460.81L498.26 460.77L499.12 460.46L499.99 459.76L500.86 459.86L501.72 459.53L502.59 459.46L503.46 459.3L504.32 459.18L505.19 459.01L506.06 458.88L506.92 459.17L507.79 458.95L508.66 458.21L509.52 457.97L510.39 458.34L511.25 459.18L512.12 460.34L512.99 460.76L513.85 461.03L514.72 460.2L515.59 458.8L516.45 457.85L517.32 457.58L518.19 456.86L519.05 456.53L519.92 456.33L520.78 456.23L521.65 455.89L522.52 456.17L523.38 456.92L524.25 456.25L525.12 455.78L525.98 454.95L526.85 454.6L527.72 454.16L528.58 453.5L529.45 453.44L530.31 453.32L531.18 453.21L532.05 453.32L532.91 453.68L533.78 454.39L534.65 454.58L535.51 455.21L536.38 456.32L537.25 457.52L538.11 459.06L538.98 460.36L539.84 462.45L540.71 464.81L541.58 467.18L542.44 468.93L543.31 469.77L544.18 469.7L545.04 468.85L545.91 468.03L546.78 466.92L547.64 466.53L548.51 466.22L549.38 466.16L550.24 466.35L551.11 466.69L551.97 466.32L552.84 466.1L553.71 465.65L554.57 464.83L555.44 463.78L556.31 463.51L557.17 463.15L558.04 462.68L558.91 461.77L559.77 460.51L560.64 459.79L561.5 459.56L562.37 459.69L563.24 459.56L564.1 459.94L564.97 460.09L565.84 460.23L566.7 459.6L567.57 458.38L568.44 456.32L569.3 453.67L570.17 451.84L571.03 449.8L571.9 447.88L572.77 445.94L573.63 445.07L574.5 443.7L575.37 443.21L576.23 442.26L577.1 441.72L577.97 440.93L578.83 441.05L579.7 441.51L580.56 441.41L581.43 441.04L582.3 440.14L583.16 439.08L584.03 438.39L584.9 437.92L585.76 437.94L586.63 438.57L587.5 439.69L588.36 441.35L589.23 443.18L590.1 444.49L590.96 446.14L591.83 448.11L592.69 449.55L593.56 450.73L594.43 452.35L595.29 453.55L596.16 454.26L597.03 454.86L597.89 454.11L598.76 451.46L599.63 448.13L600.49 445.82L601.36 443.41L602.22 441.42L603.09 440.02L603.96 439.2L604.82 438.48L605.69 437.68L606.56 437.15L607.42 436.76L608.29 436.32L609.16 436.1L610.02 436.24L610.89 436.11L611.75 435.65L612.62 435.86L613.49 435.75L614.35 436.63L615.22 437.37L616.09 438.21L616.95 438.02L617.82 438.3L618.69 437.55L619.55 436.67L620.42 435.95L621.28 434.82L622.15 434.16L623.02 433.02L623.88 432.18L624.75 431.32L625.62 430.68L626.48 430.23L627.35 429.45L628.22 429.08L629.08 428.79L629.95 428.05L630.82 427.48L631.68 427.35L632.55 426.87L633.41 426.44L634.28 425.84L635.15 425.71L636.01 425.59L636.88 425.37L637.75 425.14L638.61 424.99L639.48 425.16L640.35 426.46L641.21 427.78L642.08 429.78L642.94 431.79L643.81 433.55L644.68 435.47L645.54 437.17L646.41 438.88L647.28 439.35L648.14 439.47L649.01 438.7L649.88 438.1L650.74 437.15L651.61 435.99L652.47 435.25L653.34 434.66L654.21 433.95L655.07 433.38L655.94 432.69L656.81 432.77L657.67 432.39L658.54 431.61L659.41 431.25L660.27 431.02L661.14 430.25L662 429.69L662.87 429.4L663.74 428.9L664.6 429.21L665.47 429.06L666.34 429.66L667.2 430.47L668.07 431.08L668.94 431.88L669.8 432.15L670.67 432.34L671.53 431.82L672.4 431.28L673.27 430.1L674.13 429.06L675 428.28L675.87 427.24L676.73 426.48L677.6 425.43L678.47 424.78L679.33 424L680.2 423.15L681.07 422.3L681.93 421.29L682.8 420.52L683.66 419.98L684.53 419.22L685.4 418.16L686.26 417.43L687.13 416.57L688 416.37L688.86 416.08L689.73 415.89L690.6 416.19L691.46 416.53L692.33 417.21L693.19 419.04L694.06 420.64L694.93 422.36L695.79 423.84L696.66 425.09L697.53 425.83L698.39 427.21L699.26 427.32L700.13 427.11L700.99 426.34L701.86 425.53L702.72 424.03L703.59 422.8L704.46 422L705.32 420.34L706.19 419.47L707.06 418.8L707.92 418.13L708.79 417.58L709.66 416.92L710.52 416.69L711.39 415.85L712.25 415.54L713.12 414.97L713.99 414.39L714.85 414.17L715.72 414.28L716.59 413.95L717.45 413.85L718.32 414.81L719.19 415.53L720.05 416.35L720.92 417.11L721.79 417.42L722.65 416.96L723.52 415.49L724.38 414.08L725.25 413.12L726.12 412.36L726.98 411.47L727.85 410.78L728.72 410.31L729.58 409.75L730.45 409.34L731.32 408.59L732.18 407.98L733.05 407.95L733.91 407.7L734.78 407.43L735.65 407.31L736.51 407.41L737.38 407.22L738.25 406.55L739.11 406.76L739.98 406.29L740.85 406.03L741.71 405.59L742.58 405.49L743.44 405.88L744.31 407.61L745.18 409.7L746.04 411.85L746.91 413.48L747.78 415.33L748.64 417.15L749.51 418.37L750.38 419.69L751.24 420.22L752.11 420.07L752.97 419.7L753.84 418.72L754.71 417.77L755.57 416.65L756.44 415.12L757.31 414.56L758.17 413.55L759.04 412.7L759.91 412.25L760.77 411.52L761.64 411.19L762.51 410.72L763.37 410.08L764.24 409.31L765.1 408.75L765.97 408.42L766.84 407.64L767.7 407.51L768.57 407.3L769.44 406.87L770.3 407.58L771.17 408.01L772.04 408.87L772.9 409.89L773.77 410.46L774.63 409.91L775.5 408.72L776.37 407.82L777.23 406.53L778.1 405.79L778.97 404.75L779.83 404.08L780.7 403.75L781.57 403.15L782.43 402.57L783.3 401.98L784.16 401.73L785.03 400.96L785.9 400.72L786.76 400.35L787.63 399.64L788.5 399.57L789.36 398.86L790.23 398.86L791.1 398.68L791.96 398.49L792.83 398.45L793.69 398.23L794.56 398.27L795.43 398.75L796.29 399.92L797.16 402.07L798.03 404.04L798.89 405.91L799.76 407.49L800.63 408.98L801.49 410.01L802.36 411.18L803.23 411.86L804.09 411.57L804.96 411.16L805.82 410.15L806.69 409.14L807.56 408.1L808.42 407.43L809.29 406.37L810.16 405.56L811.02 404.87L811.89 404.66L812.76 403.95L813.62 403.24L814.49 402.75L815.35 402.39L816.22 402.02L817.09 401.4L817.95 401.43L818.82 401.25L819.69 401.34L820.55 401.17L821.42 401.46L822.29 402.44L823.15 403.15L824.02 403.75L824.88 404.36L825.75 404.7L826.62 404.14L827.48 403.3L828.35 402.54L829.22 400.93L830.08 399.7L830.95 398.68L831.82 398.32L832.68 397.36L833.55 396.37L834.41 395.18L835.28 394.19L836.15 393.04L837.01 392.73L837.88 392.38L838.75 393.02L839.61 393.04L840.48 392.76L841.35 392.72L842.21 392.58L843.08 392.21L843.94 391.72L844.81 391.57L845.68 391.19L846.54 391.42L847.41 392.72L848.28 394.59L849.14 397.04L850.01 399.03L850.88 401.4L851.74 403.64L852.61 405.29L853.48 406.74L854.34 408.1L855.21 408.26L856.07 408.16L856.94 407.71L857.81 406.57L858.67 405.83L859.54 404.72L860.41 404.15L861.27 403.42L862.14 402.44L863.01 402.36L863.87 401.56L864.74 401.52L865.6 400.98L866.47 400.59L867.34 400.84L868.2 400.64L869.07 400.46L869.94 400.71L870.8 400.28L871.67 400.14L872.54 400.21L873.4 400.54L874.27 401.07L875.13 401.88L876 402.34L876.87 402.94L877.73 403L878.6 403.36L879.47 402.64L880.33 402.69L881.2 402.57L882.07 402.39L882.93 402.53L883.8 401.66L884.66 400.25L885.53 399.21L886.4 397.68L887.26 396.8L888.13 396.51L889 396.06L889.86 395.77L890.73 395.32L891.6 394.52L892.46 394.24L893.33 393.84L894.2 394.09L895.06 393.69L895.93 393.15L896.79 393.05L897.66 392.6L898.53 392.73L899.39 389.83L900.26 393.6L901.13 395.16L901.99 397.37L902.86 399.54L903.73 401.15L904.59 403.41L905.46 404.78L906.32 406.18L907.19 406.79L908.06 407.23L908.92 406.83L909.79 405.51L910.66 404.5L911.52 403.18L912.39 401.86L913.26 401.17L914.12 400.26L914.99 400.02L915.85 399.73L916.72 399.71L917.59 399.2L918.45 398.68L919.32 397.91L920.19 397.31L921.05 397.29L921.92 397.09L922.79 396.98L923.65 396.53L924.52 396.64L925.38 396.49L926.25 396.9L927.12 397.41L927.98 398.24L928.85 398.6L929.72 399.29L930.58 399.29L931.45 399.27L932.32 399.08L933.18 397.95L934.05 396.51L934.92 395.22L935.78 394.17L936.65 393.34L937.51 393.06L938.38 392.4L939.25 391.92L940.11 391.54L940.98 391.17L941.85 391.48L942.71 391.22L943.58 391.63L944.45 391.62L945.31 391.62L946.18 391.36L947.04 391.46L947.91 391.14L948.78 391.34L949.64 390.82L950.51 390.27L951.38 390.73L952.24 391.8L953.11 393.63L953.98 395.5L954.84 396.82L955.71 398.27L956.57 399.64L957.44 400.85L958.31 401.75L959.17 401.79L960.04 401.96L960.91 401.32L961.77 400.61L962.64 399.65L963.51 398.6L964.37 397.57L965.24 396.82L966.1 396.04L966.97 395.81L967.84 395.48L968.7 390.81L969.57 395.42L970.44 395.54L971.3 395.59L972.17 395.41L973.04 395.51L973.9 394.91L974.77 394.27L975.64 394.21L976.5 394.15L977.37 394.13L978.23 394.85L979.1 395.65L979.97 396.43L980.83 396.78L981.7 397.52L982.57 397.49L983.43 397.22L984.3 396.11L985.17 395.21L986.03 393.96L986.9 392.7L987.76 391.46L988.63 390.44L989.5 389.33L990.36 388.22L991.23 387.24L992.1 385.87L992.96 385.43L993.83 385.24L994.7 384.64L995.56 384.35L996.43 384.1L997.29 383.58L998.16 383.36L999.03 382.66L999.89 382.61L1000.76 382.33L1001.63 382.57L1002.49 382.45L1003.36 383.33L1004.23 384.96L1005.09 386.9L1005.96 388.52L1006.82 390.83L1007.69 392.31L1008.56 394.34L1009.42 395.8L1010.29 397.33L1011.16 397.78L1012.02 397.7L1012.89 396.92L1013.76 396.02L1014.62 394.83L1015.49 393.67L1016.36 392.78L1017.22 392.34L1018.09 391.74L1018.95 391.4L1019.82 390.87L1020.69 390.29L1021.55 389.88L1022.42 389.35L1023.29 388.61L1024.15 388.21L1025.02 387.9L1025.89 387.26L1026.75 386.85L1027.62 386.24L1028.48 385.04L1029.35 385.03L1030.22 385.15L1031.08 385.89L1031.95 386.17L1032.82 386.43L1033.68 386.77L1034.55 387.45L1035.42 388.37L1036.28 388.43L1037.15 387.52L1038.01 386.66" fill="none" stroke="#0000ff" stroke-width="0.56" stroke-linejoin="round"/>
<path d="M415.5 346.4h0M416.5 350.4h0M417.5 355.4h0M418.5 362.4h0M419.5 370.4h0M419.5 379.4h0M420.5 387.4h0M421.5 392.4h0M422.5 397.4h0M423.5 401.4h0M424.5 405.4h0M425.5 408.4h0M425.5 412.4h0M426.5 414.4h0M427.5 417.4h0M428.5 418.4h0M429.5 420.4h0M430.5 421.4h0M431.5 423.4h0M432.5 424.4h0M432.5 427.4h0M433.5 430.4h0M434.5 433.4h0M435.5 435.4h0M436.5 438.4h0M437.5 441.4h0M438.5 443.4h0M438.5 445.4h0M439.5 447.4h0M440.5 449.4h0M441.5 449.4h0M442.5 450.4h0M443.5 450.4h0M444.5 451.4h0M445.5 451.4h0M445.5 451.4h0M446.5 451.4h0M447.5 452.4h0M448.5 452.4h0M449.5 453.4h0M450.5 453.4h0M451.5 453.4h0M451.5 453.4h0M452.5 453.4h0M453.5 453.4h0M454.5 452.4h0M455.5 452.4h0M456.5 452.4h0M457.5 452.4h0M458.5 454.4h0M458.5 456.4h0M459.5 458.4h0M460.5 460.4h0M461.5 461.4h0M462.5 462.4h0M463.5 463.4h0M464.5 464.4h0M464.5 464.4h0M465.5 463.4h0M466.5 463.4h0M467.5 462.4h0M468.5 461.4h0M469.5 460.4h0M470.5 459.4h0M471.5 458.4h0M471.5 457.4h0M472.5 456.4h0M473.5 455.4h0M474.5 455.4h0M475.5 454.4h0M476.5 454.4h0M477.5 453.4h0M477.5 453.4h0M478.5 453.4h0M479.5 453.4h0M480.5 453.4h0M481.5 453.4h0M482.5 453.4h0M483.5 454.4h0M484.5 455.4h0M484.5 456.4h0M485.5 458.4h0M486.5 459.4h0M487.5 461.4h0M488.5 462.4h0M489.5 463.4h0M490.5 464.4h0M490.5 465.4h0M491.5 466.4h0M492.5 466.4h0M493.5 466.4h0M494.5 464.4h0M495.5 463.4h0M496.5 462.4h0M497.5 462.4h0M497.5 461.4h0M498.5 461.4h0M499.5 460.4h0M500.5 460.4h0M501.5 460.4h0M502.5 460.4h0M503.5 459.4h0M503.5 459.4h0M504.5 459.4h0M505.5 459.4h0M506.5 459.4h0M507.5 459.4h0M508.5 459.4h0M509.5 458.4h0M510.5 458.4h0M510.5 458.4h0M511.5 459.4h0M512.5 460.4h0M513.5 461.4h0M514.5 461.4h0M515.5 460.4h0M516.5 459.4h0M516.5 458.4h0M517.5 458.4h0M518.5 457.4h0M519.5 457.4h0M520.5 456.4h0M521.5 456.4h0M522.5 456.4h0M523.5 456.4h0M523.5 457.4h0M524.5 456.4h0M525.5 456.4h0M526.5 455.4h0M527.5 455.4h0M528.5 454.4h0M529.5 453.4h0M529.5 453.4h0M530.5 453.4h0M531.5 453.4h0M532.5 453.4h0M533.5 454.4h0M534.5 454.4h0M535.5 455.4h0M536.5 455.4h0M536.5 456.4h0M537.5 458.4h0M538.5 459.4h0M539.5 460.4h0M540.5 462.4h0M541.5 465.4h0M542.5 467.4h0M542.5 469.4h0M543.5 470.4h0M544.5 470.4h0M545.5 469.4h0M546.5 468.4h0M547.5 467.4h0M548.5 467.4h0M549.5 466.4h0M549.5 466.4h0M550.5 466.4h0M551.5 467.4h0M552.5 466.4h0M553.5 466.4h0M554.5 466.4h0M555.5 465.4h0M555.5 464.4h0M556.5 464.4h0M557.5 463.4h0M558.5 463.4h0M559.5 462.4h0M560.5 461.4h0M561.5 460.4h0M562.5 460.4h0M562.5 460.4h0M563.5 460.4h0M564.5 460.4h0M565.5 460.4h0M566.5 460.4h0M567.5 460.4h0M568.5 458.4h0M568.5 456.4h0M569.5 454.4h0M570.5 452.4h0M571.5 450.4h0M572.5 448.4h0M573.5 446.4h0M574.5 445.4h0M575.5 444.4h0M575.5 443.4h0M576.5 442.4h0M577.5 442.4h0M578.5 441.4h0M579.5 441.4h0M580.5 442.4h0M581.5 441.4h0M581.5 441.4h0M582.5 440.4h0M583.5 439.4h0M584.5 438.4h0M585.5 438.4h0M586.5 438.4h0M587.5 439.4h0M587.5 440.4h0M588.5 441.4h0M589.5 443.4h0M590.5 444.4h0M591.5 446.4h0M592.5 448.4h0M593.5 450.4h0M594.5 451.4h0M594.5 452.4h0M595.5 454.4h0M596.5 454.4h0M597.5 455.4h0M598.5 454.4h0M599.5 451.4h0M600.5 448.4h0M600.5 446.4h0M601.5 443.4h0M602.5 441.4h0M603.5 440.4h0M604.5 439.4h0M605.5 438.4h0M606.5 438.4h0M607.5 437.4h0M607.5 437.4h0M608.5 436.4h0M609.5 436.4h0M610.5 436.4h0M611.5 436.4h0M612.5 436.4h0M613.5 436.4h0M613.5 436.4h0M614.5 437.4h0M615.5 437.4h0M616.5 438.4h0M617.5 438.4h0M618.5 438.4h0M619.5 438.4h0M620.5 437.4h0M620.5 436.4h0M621.5 435.4h0M622.5 434.4h0M623.5 433.4h0M624.5 432.4h0M625.5 431.4h0M626.5 431.4h0M626.5 430.4h0M627.5 429.4h0M628.5 429.4h0M629.5 429.4h0M630.5 428.4h0M631.5 427.4h0M632.5 427.4h0M633.5 427.4h0M633.5 426.4h0M634.5 426.4h0M635.5 426.4h0M636.5 426.4h0M637.5 425.4h0M638.5 425.4h0M639.5 425.4h0M639.5 425.4h0M640.5 426.4h0M641.5 428.4h0M642.5 430.4h0M643.5 432.4h0M644.5 434.4h0M645.5 435.4h0M646.5 437.4h0M646.5 439.4h0M647.5 439.4h0M648.5 439.4h0M649.5 439.4h0M650.5 438.4h0M651.5 437.4h0M652.5 436.4h0M652.5 435.4h0M653.5 435.4h0M654.5 434.4h0M655.5 433.4h0M656.5 433.4h0M657.5 433.4h0M658.5 432.4h0M659.5 432.4h0M659.5 431.4h0M660.5 431.4h0M661.5 430.4h0M662.5 430.4h0M663.5 429.4h0M664.5 429.4h0M665.5 429.4h0M665.5 429.4h0M666.5 430.4h0M667.5 430.4h0M668.5 431.4h0M669.5 432.4h0M670.5 432.4h0M671.5 432.4h0M672.5 432.4h0M672.5 431.4h0M673.5 430.4h0M674.5 429.4h0M675.5 428.4h0M676.5 427.4h0M677.5 426.4h0M678.5 425.4h0M678.5 425.4h0M679.5 424.4h0M680.5 423.4h0M681.5 422.4h0M682.5 421.4h0M683.5 421.4h0M684.5 420.4h0M685.5 419.4h0M685.5 418.4h0M686.5 417.4h0M687.5 417.4h0M688.5 416.4h0M689.5 416.4h0M690.5 416.4h0M691.5 416.4h0M691.5 417.4h0M692.5 417.4h0M693.5 419.4h0M694.5 421.4h0M695.5 422.4h0M696.5 424.4h0M697.5 425.4h0M698.5 426.4h0M698.5 427.4h0M699.5 427.4h0M700.5 427.4h0M701.5 426.4h0M702.5 426.4h0M703.5 424.4h0M704.5 423.4h0M704.5 422.4h0M705.5 420.4h0M706.5 419.4h0M707.5 419.4h0M708.5 418.4h0M709.5 418.4h0M710.5 417.4h0M711.5 417.4h0M711.5 416.4h0M712.5 416.4h0M713.5 415.4h0M714.5 414.4h0M715.5 414.4h0M716.5 414.4h0M717.5 414.4h0M717.5 414.4h0M718.5 415.4h0M719.5 416.4h0M720.5 416.4h0M721.5 417.4h0M722.5 417.4h0M723.5 417.4h0M724.5 415.4h0M724.5 414.4h0M725.5 413.4h0M726.5 412.4h0M727.5 411.4h0M728.5 411.4h0M729.5 410.4h0M730.5 410.4h0M730.5 409.4h0M731.5 409.4h0M732.5 408.4h0M733.5 408.4h0M734.5 408.4h0M735.5 407.4h0M736.5 407.4h0M737.5 407.4h0M737.5 407.4h0M738.5 407.4h0M739.5 407.4h0M740.5 406.4h0M741.5 406.4h0M742.5 406.4h0M743.5 405.4h0M743.5 406.4h0M744.5 408.4h0M745.5 410.4h0M746.5 412.4h0M747.5 413.4h0M748.5 415.4h0M749.5 417.4h0M750.5 418.4h0M750.5 420.4h0M751.5 420.4h0M752.5 420.4h0M753.5 420.4h0M754.5 419.4h0M755.5 418.4h0M756.5 417.4h0M756.5 415.4h0M757.5 415.4h0M758.5 414.4h0M759.5 413.4h0M760.5 412.4h0M761.5 412.4h0M762.5 411.4h0M763.5 411.4h0M763.5 410.4h0M764.5 409.4h0M765.5 409.4h0M766.5 408.4h0M767.5 408.4h0M768.5 408.4h0M769.5 407.4h0M769.5 407.4h0M770.5 408.4h0M771.5 408.4h0M772.5 409.4h0M773.5 410.4h0M774.5 410.4h0M775.5 410.4h0M776.5 409.4h0M776.5 408.4h0M777.5 407.4h0M778.5 406.4h0M779.5 405.4h0M780.5 404.4h0M781.5 404.4h0M782.5 403.4h0M782.5 403.4h0M783.5 402.4h0M784.5 402.4h0M785.5 401.4h0M786.5 401.4h0M787.5 400.4h0M788.5 400.4h0M788.5 400.4h0M789.5 399.4h0M790.5 399.4h0M791.5 399.4h0M792.5 398.4h0M793.5 398.4h0M794.5 398.4h0M795.5 398.4h0M795.5 399.4h0M796.5 400.4h0M797.5 402.4h0M798.5 404.4h0M799.5 406.4h0M800.5 407.4h0M801.5 409.4h0M801.5 410.4h0M802.5 411.4h0M803.5 412.4h0M804.5 412.4h0M805.5 411.4h0M806.5 410.4h0M807.5 409.4h0M808.5 408.4h0M808.5 407.4h0M809.5 406.4h0M810.5 406.4h0M811.5 405.4h0M812.5 405.4h0M813.5 404.4h0M814.5 403.4h0M814.5 403.4h0M815.5 402.4h0M816.5 402.4h0M817.5 401.4h0M818.5 401.4h0M819.5 401.4h0M820.5 401.4h0M821.5 401.4h0M821.5 401.4h0M822.5 402.4h0M823.5 403.4h0M824.5 404.4h0M825.5 404.4h0M826.5 405.4h0M827.5 404.4h0M827.5 403.4h0M828.5 403.4h0M829.5 401.4h0M830.5 400.4h0M831.5 399.4h0M832.5 398.4h0M833.5 397.4h0M834.5 396.4h0M834.5 395.4h0M835.5 394.4h0M836.5 393.4h0M837.5 393.4h0M838.5 392.4h0M839.5 393.4h0M840.5 393.4h0M840.5 393.4h0M841.5 393.4h0M842.5 393.4h0M843.5 392.4h0M844.5 392.4h0M845.5 392.4h0M846.5 391.4h0M847.5 391.4h0M847.5 393.4h0M848.5 395.4h0M849.5 397.4h0M850.5 399.4h0M851.5 401.4h0M852.5 404.4h0M853.5 405.4h0M853.5 407.4h0M854.5 408.4h0M855.5 408.4h0M856.5 408.4h0M857.5 408.4h0M858.5 407.4h0M859.5 406.4h0M860.5 405.4h0M860.5 404.4h0M861.5 403.4h0M862.5 402.4h0M863.5 402.4h0M864.5 402.4h0M865.5 402.4h0M866.5 401.4h0M866.5 401.4h0M867.5 401.4h0M868.5 401.4h0M869.5 400.4h0M870.5 401.4h0M871.5 400.4h0M872.5 400.4h0M873.5 400.4h0M873.5 401.4h0M874.5 401.4h0M875.5 402.4h0M876.5 402.4h0M877.5 403.4h0M878.5 403.4h0M879.5 403.4h0M879.5 403.4h0M880.5 403.4h0M881.5 403.4h0M882.5 402.4h0M883.5 403.4h0M884.5 402.4h0M885.5 400.4h0M886.5 399.4h0M886.5 398.4h0M887.5 397.4h0M888.5 397.4h0M889.5 396.4h0M890.5 396.4h0M891.5 395.4h0M892.5 395.4h0M892.5 394.4h0M893.5 394.4h0M894.5 394.4h0M895.5 394.4h0M896.5 393.4h0M897.5 393.4h0M898.5 393.4h0M899.5 393.4h0M899.5 390.4h0M900.5 394.4h0M901.5 395.4h0M902.5 397.4h0M903.5 400.4h0M904.5 401.4h0M905.5 403.4h0M905.5 405.4h0M906.5 406.4h0M907.5 407.4h0M908.5 407.4h0M909.5 407.4h0M910.5 406.4h0M911.5 404.4h0M912.5 403.4h0M912.5 402.4h0M913.5 401.4h0M914.5 400.4h0M915.5 400.4h0M916.5 400.4h0M917.5 400.4h0M918.5 399.4h0M918.5 399.4h0M919.5 398.4h0M920.5 397.4h0M921.5 397.4h0M922.5 397.4h0M923.5 397.4h0M924.5 397.4h0M925.5 397.4h0M925.5 396.4h0M926.5 397.4h0M927.5 397.4h0M928.5 398.4h0M929.5 399.4h0M930.5 399.4h0M931.5 399.4h0M931.5 399.4h0M932.5 399.4h0M933.5 398.4h0M934.5 397.4h0M935.5 395.4h0M936.5 394.4h0M937.5 393.4h0M938.5 393.4h0M938.5 392.4h0M939.5 392.4h0M940.5 392.4h0M941.5 391.4h0M942.5 391.4h0M943.5 391.4h0M944.5 392.4h0M944.5 392.4h0M945.5 392.4h0M946.5 391.4h0M947.5 391.4h0M948.5 391.4h0M949.5 391.4h0M950.5 391.4h0M951.5 390.4h0M951.5 391.4h0M952.5 392.4h0M953.5 394.4h0M954.5 396.4h0M955.5 397.4h0M956.5 398.4h0M957.5 400.4h0M957.5 401.4h0M958.5 402.4h0M959.5 402.4h0M960.5 402.4h0M961.5 401.4h0M962.5 401.4h0M963.5 400.4h0M964.5 399.4h0M964.5 398.4h0M965.5 397.4h0M966.5 396.4h0M967.5 396.4h0M968.5 395.4h0M969.5 391.4h0M970.5 395.4h0M970.5 396.4h0M971.5 396.4h0M972.5 395.4h0M973.5 396.4h0M974.5 395.4h0M975.5 394.4h0M976.5 394.4h0M977.5 394.4h0M977.5 394.4h0M978.5 395.4h0M979.5 396.4h0M980.5 396.4h0M981.5 397.4h0M982.5 398.4h0M983.5 397.4h0M983.5 397.4h0M984.5 396.4h0M985.5 395.4h0M986.5 394.4h0M987.5 393.4h0M988.5 391.4h0M989.5 390.4h0M989.5 389.4h0M990.5 388.4h0M991.5 387.4h0M992.5 386.4h0M993.5 385.4h0M994.5 385.4h0M995.5 385.4h0M996.5 384.4h0M996.5 384.4h0M997.5 384.4h0M998.5 383.4h0M999.5 383.4h0M1000.5 383.4h0M1001.5 382.4h0M1002.5 383.4h0M1002.5 382.4h0M1003.5 383.4h0M1004.5 385.4h0M1005.5 387.4h0M1006.5 389.4h0M1007.5 391.4h0M1008.5 392.4h0M1009.5 394.4h0M1009.5 396.4h0M1010.5 397.4h0M1011.5 398.4h0M1012.5 398.4h0M1013.5 397.4h0M1014.5 396.4h0M1015.5 395.4h0M1015.5 394.4h0M1016.5 393.4h0M1017.5 392.4h0M1018.5 392.4h0M1019.5 391.4h0M1020.5 391.4h0M1021.5 390.4h0M1022.5 390.4h0M1022.5 389.4h0M1023.5 389.4h0M1024.5 388.4h0M1025.5 388.4h0M1026.5 387.4h0M1027.5 387.4h0M1028.5 386.4h0M1028.5 385.4h0M1029.5 385.4h0M1030.5 385.4h0M1031.5 386.4h0M1032.5 386.4h0M1033.5 386.4h0M1034.5 387.4h0M1035.5 387.4h0M1035.5 388.4h0M1036.5 388.4h0M1037.5 388.4h0M1038.5 387.4h0" fill="none" stroke="#0000ff" stroke-width="3.12" stroke-linecap="round"/>
</g>
<path d="M66.5 476.5v5M222.5 476.5v5M378.5 476.5v5M534.5 476.5v5M690.5 476.5v5M846.5 476.5v5M1002.5 476.5v5M1158.5 476.5v5M1314.5 476.5v5" stroke="#000" stroke-width="1.11" fill="none"/>
<rect x="61.5" y="369" width="5" height="1" fill="#000"/><rect x="61.5" y="368" width="5" height="3" fill="#000" fill-opacity="0.055"/>
<rect x="61.5" y="405" width="5" height="1" fill="#000"/><rect x="61.5" y="404" width="5" height="3" fill="#000" fill-opacity="0.055"/>
<rect x="61.5" y="441" width="5" height="1" fill="#000"/><rect x="61.5" y="440" width="5" height="3" fill="#000" fill-opacity="0.055"/>
<rect x="66.5" y="339.5" width="1248" height="137" fill="none" stroke="#000" stroke-width="1.11"/>
<text x="34.88 43.62 52.38 57 65.75 74.5 79.12 89.25" y="496.5">00:00 UT</text>
<text x="191 199.75 208.5 213.12 221.88 230.62 235 245.12" y="496.5">03:00 UT</text>
<text x="346 354.75 363.62 368.25 377 385.75 390.12 400.25" y="496.5">06:00 UT</text>
<text x="502 510.75 519.62 524.25 533 541.75 546.12 556.25" y="496.5">09:00 UT</text>
<text x="658 666.88 675.62 680.25 689 697.75 702.12 712.25" y="496.5">12:00 UT</text>
<text x="814 822.88 831.62 836.25 845 853.75 858.12 868.25" y="496.5">15:00 UT</text>
<text x="970 978.88 987.75 992.38 1001.12 1009.88 1014.25 1024.38" y="496.5">18:00 UT</text>
<text x="1126 1134.75 1143.62 1148.25 1157 1165.75 1170.12 1180.25" y="496.5">21:00 UT</text>
<text x="1281.88 1290.62 1299.38 1304 1312.75 1321.5 1326.12 1336.25" y="496.5">00:00 UT</text>
<text x="38.75 46.75" y="375">70</text>
<text x="39 47.88" y="411">65</text>
<text x="39 47.88" y="447">60</text>
<text transform="rotate(-90)"><tspan x="-455 -444.62 -435.88 -422.38 -418.5 -409.62 -405.75 -400.25 -392 -387.62 -382.12 -369" y="28.5">Humidity (%)</tspan></text>
<rect x="1238.5" y="346.5" width="69" height="25" rx="2.6" fill="#fff" fill-opacity="0.8" stroke="#ccc" stroke-opacity="0.8" stroke-width="1.39"/>
<rect x="1241.5" y="345" width="63" height="3" fill="#ccc" fill-opacity="0.07"/>
<rect x="1241.5" y="370" width="63" height="3" fill="#ccc" fill-opacity="0.07"/>
<path d="M1244.22 358.5h28.56" stroke="#0000ff" stroke-width="0.56" fill="none"/>
<path d="M1258.5 358.4h0" stroke="#0000ff" stroke-width="3.12" stroke-linecap="round" fill="none"/>
<text x="1284 1292.12 1295.5" y="362.5">air</text>
</g>
<g>
<path d="M222.5 504.5V641.5M378.5 504.5V641.5M534.5 504.5V641.5M690.5 504.5V641.5M846.5 504.5V641.5M1002.5 504.5V641.5M1158.5 504.5V641.5" stroke="#b0b0b0" stroke-width="1.11" fill="none"/>
<rect x="66.5" y="529" width="1248" height="1" fill="#b0b0b0"/><rect x="66.5" y="528" width="1248" height="3" fill="#b0b0b0" fill-opacity="0.065"/>
<rect x="66.5" y="581" width="1248" height="1" fill="#b0b0b0"/><rect x="66.5" y="580" width="1248" height="3" fill="#b0b0b0" fill-opacity="0.065"/>
<rect x="66.5" y="634" width="1248" height="1" fill="#b0b0b0"/><rect x="66.5" y="633" width="1248" height="3" fill="#b0b0b0" fill-opacity="0.065"/>
<clipPath id="c3"><rect x="66.5" y="504.5" width="1248" height="137"/></clipPath>
<g clip-path="url(#c3)">
<path d="M415.09 633.72L415.95 634.68L416.82 633.14L417.69 633.42L418.55 634.03L419.42 632.97L420.28 632.87L421.15 631.67L422.02 631.97L422.88 632.35L423.75 632.73L424.62 633.02L425.48 632.01L426.35 631.05L427.22 630.89L428.08 631.69L428.95 629.32L429.81 630L430.68 631.32L431.55 629.32L432.41 630.13L433.28 629.77L434.15 626.84L435.01 627.81L435.88 629.76L436.75 628.98L437.61 629.33L438.48 629.12L439.34 628.17L440.21 626.97L441.08 625.65L441.94 625.64L442.81 624.88L443.68 625.89L444.54 626.37L445.41 628.25L446.28 627.69L447.14 625.86L448.01 625.75L448.87 624.3L449.74 623.98L450.61 623L451.47 622.58L452.34 620.55L453.21 619.43L454.07 619.75L454.94 619.01L455.81 620.2L456.67 617.42L457.54 617.54L458.41 615.58L459.27 614.55L460.14 614.01L461 612.7L461.87 612.54L462.74 612.01L463.6 612.69L464.47 614.28L465.34 613.37L466.2 613.32L467.07 613.48L467.94 609.73L468.8 606.58L469.67 607.53L470.53 608.55L471.4 607.42L472.27 608.31L473.13 607.39L474 605.88L474.87 603.39L475.73 602.69L476.6 600.68L477.47 600.99L478.33 601.24L479.2 602.05L480.06 601.84L480.93 601.41L481.8 602.37L482.66 603.31L483.53 604.23L484.4 604.89L485.26 605.55L486.13 605.37L487 605.88L487.86 605.42L488.73 604.18L489.59 603.55L490.46 604.68L491.33 605.3L492.19 605.09L493.06 605.59L493.93 606.12L494.79 602.73L495.66 601.88L496.53 599.25L497.39 598.73L498.26 598.5L499.12 598.15L499.99 596.65L500.86 597.72L501.72 595.58L502.59 595.55L503.46 595.64L504.32 593.16L505.19 592.1L506.06 591.83L506.92 591.47L507.79 590.75L508.66 588.44L509.52 588.97L510.39 588.61L511.25 586.99L512.12 587.15L512.99 586.3L513.85 586.53L514.72 586.94L515.59 585.12L516.45 584.19L517.32 583.49L518.19 581.22L519.05 581.32L519.92 582.05L520.78 580.95L521.65 582.13L522.52 582.02L523.38 579.75L524.25 580.86L525.12 581.5L525.98 581.92L526.85 580.06L527.72 579.23L528.58 580.35L529.45 580.2L530.31 578.5L531.18 579.08L532.05 579.67L532.91 579.86L533.78 578.12L534.65 579.04L535.51 578.74L536.38 577.49L537.25 575.93L538.11 576.05L538.98 577.16L539.84 578.5L540.71 576.52L541.58 576.28L542.44 576.98L543.31 575.25L544.18 574.13L545.04 572.5L545.91 572.7L546.78 572.71L547.64 571.66L548.51 570.55L549.38 570.84L550.24 571.29L551.11 571.96L551.97 572.06L552.84 570.33L553.71 569.84L554.57 573.95L555.44 576.32L556.31 574.9L557.17 575.37L558.04 575.31L558.91 574.19L559.77 574.25L560.64 571.63L561.5 571.79L562.37 571.63L563.24 571.08L564.1 572.8L564.97 570.68L565.84 572.22L566.7 570.78L567.57 571.07L568.44 570.52L569.3 569.25L570.17 569.4L571.03 568.86L571.9 567.76L572.77 568.19L573.63 566.46L574.5 566.25L575.37 566.35L576.23 565.99L577.1 565L577.97 566.13L578.83 565.37L579.7 563.52L580.56 564.04L581.43 563.59L582.3 564.04L583.16 563.56L584.03 564.05L584.9 564.79L585.76 562.77L586.63 562.69L587.5 562.81L588.36 564.05L589.23 563.26L590.1 564.72L590.96 564.54L591.83 563.05L592.69 562.78L593.56 564.57L594.43 565.49L595.29 565.43L596.16 564.28L597.03 565.75L597.89 564.08L598.76 561.75L599.63 561.58L600.49 559.67L601.36 561.42L602.22 560.72L603.09 560L603.96 560.01L604.82 557.98L605.69 557.51L606.56 556.62L607.42 556.89L608.29 555.4L609.16 557.04L610.02 555.72L610.89 555.67L611.75 554.86L612.62 556.25L613.49 556.11L614.35 554.97L615.22 553.35L616.09 554.07L616.95 552.25L617.82 553.59L618.69 552.71L619.55 553L620.42 554.67L621.28 556.08L622.15 554.74L623.02 555.64L623.88 554.39L624.75 556.04L625.62 556.43L626.48 555.18L627.35 556.29L628.22 555.2L629.08 555.97L629.95 555.47L630.82 555.56L631.68 556.9L632.55 555.2L633.41 556.86L634.28 556.77L635.15 556.53L636.01 558.15L636.88 557.4L637.75 557.91L638.61 556.82L639.48 555.66L640.35 556.68L641.21 553.75L642.08 552.37L642.94 552.78L643.81 551.25L644.68 550.77L645.54 551.54L646.41 549.95L647.28 551.36L648.14 550.83L649.01 550.13L649.88 549.6L650.74 550.16L651.61 552.01L652.47 550.35L653.34 549.18L654.21 548.94L655.07 550.03L655.94 548.67L656.81 550.55L657.67 549.41L658.54 551.2L659.41 549.88L660.27 548.42L661.14 549.65L662 546.68L662.87 545.99L663.74 546.06L664.6 546.23L665.47 547.46L666.34 546.43L667.2 544.9L668.07 544.77L668.94 546.06L669.8 549.42L670.67 548.36L671.53 550.36L672.4 550.1L673.27 550.55L674.13 552.08L675 552.87L675.87 552.18L676.73 550.97L677.6 552.63L678.47 549.63L679.33 550.27L680.2 550.63L681.07 551.48L681.93 551.31L682.8 550.7L683.66 549.44L684.53 549.74L685.4 549.07L686.26 548.46L687.13 547.51L688 545.44L688.86 545.15L689.73 544.52L690.6 543.48L691.46 544.88L692.33 544.86L693.19 545.75L694.06 544.71L694.93 545.32L695.79 543.36L696.66 543.22L697.53 541.52L698.39 541.08L699.26 542.93L700.13 541.56L700.99 543.06L701.86 541.78L702.72 540.03L703.59 541.27L704.46 539.12L705.32 540.98L706.19 539.02L707.06 540.62L707.92 540.47L708.79 541.57L709.66 541.95L710.52 539.75L711.39 539.46L712.25 539.37L713.12 537.57L713.99 539.12L714.85 539.88L715.72 538.64L716.59 540.15L717.45 539.17L718.32 539.58L719.19 537.18L720.05 537.93L720.92 538.71L721.79 538.69L722.65 537.3L723.52 539.33L724.38 538.19L725.25 539.84L726.12 539.53L726.98 539.26L727.85 541.17L728.72 540.78L729.58 539.41L730.45 538.93L731.32 536.13L732.18 535L733.05 534.97L733.91 536.6L734.78 536.96L735.65 536.97L736.51 536.18L737.38 534.82L738.25 534.75L739.11 536.45L739.98 536.56L740.85 536.95L741.71 537.81L742.58 535.72L743.44 536.47L744.31 536.02L745.18 534.69L746.04 535.34L746.91 537.75L747.78 537.16L748.64 537.18L749.51 536.62L750.38 534.73L751.24 535.66L752.11 534.21L752.97 533.35L753.84 533.58L754.71 532.59L755.57 532.99L756.44 532.05L757.31 533.9L758.17 533.27L759.04 532.57L759.91 532.46L760.77 532.98L761.64 532.2L762.51 531.81L763.37 531.95L764.24 532.47L765.1 533.88L765.97 531.33L766.84 532.73L767.7 532.28L768.57 530.76L769.44 531.06L770.3 531.58L771.17 531.82L772.04 531.77L772.9 531.47L773.77 529.38L774.63 528.8L775.5 529.15L776.37 529.31L777.23 529.68L778.1 528.5L778.97 529.56L779.83 529.88L780.7 529.53L781.57 529.74L782.43 529.91L783.3 530.13L784.16 527.59L785.03 529.33L785.9 527.43L786.76 527.3L787.63 527.4L788.5 528.36L789.36 527.66L790.23 527.78L791.1 528.55L791.96 528.32L792.83 525.63L793.69 524.88L794.56 526.45L795.43 526.37L796.29 524.7L797.16 524.92L798.03 524.57L798.89 525.87L799.76 527.2L800.63 527.28L801.49 525.77L802.36 526.31L803.23 527.3L804.09 528.47L804.96 527.81L805.82 526.4L806.69 525.54L807.56 525.53L808.42 528.11L809.29 528.71L810.16 528.74L811.02 529.81L811.89 528.57L812.76 527.79L813.62 526.68L814.49 526.45L815.35 527.12L816.22 527.27L817.09 528.01L817.95 526.95L818.82 528.47L819.69 528.71L820.55 528.46L821.42 529.6L822.29 529.24L823.15 529.96L824.02 531.61L824.88 531.62L825.75 531.89L826.62 530.41L827.48 530.61L828.35 530.27L829.22 530.09L830.08 529.63L830.95 531.23L831.82 530.71L832.68 528.82L833.55 528.71L834.41 530.18L835.28 529.24L836.15 528.76L837.01 529L837.88 527.79L838.75 527.41L839.61 527.08L840.48 526.58L841.35 527.35L842.21 525.94L843.08 527.41L843.94 528.62L844.81 526.81L845.68 527.81L846.54 528.31L847.41 527.76L848.28 529.38L849.14 528.34L850.01 528.45L850.88 530L851.74 528.4L852.61 530.9L853.48 528.77L854.34 529.01L855.21 528.21L856.07 526.01L856.94 524.07L857.81 524.73L858.67 524.83L859.54 526.63L860.41 526.94L861.27 526.54L862.14 527.29L863.01 526.54L863.87 524.79L864.74 523.71L865.6 525.17L866.47 524.78L867.34 524.31L868.2 526.93L869.07 527.19L869.94 526.45L870.8 526.89L871.67 527.18L872.54 527.97L873.4 527.05L874.27 526.98L875.13 525.78L876 525.47L876.87 525.94L877.73 525.12L878.6 524.52L879.47 525.22L880.33 526.02L881.2 524.77L882.07 526.06L882.93 525.51L883.8 525.22L884.66 525.62L885.53 523.76L886.4 524.42L887.26 526.57L888.13 526.95L889 525.13L889.86 526.98L890.73 525.33L891.6 526.29L892.46 527.1L893.33 528.4L894.2 528.35L895.06 529.02L895.93 527.28L896.79 525.67L897.66 525.16L898.53 523.65L899.39 523.74L900.26 525.12L901.13 525.71L901.99 525.12L902.86 524.74L903.73 523.38L904.59 524.02L905.46 523.8L906.32 523.7L907.19 524.97L908.06 524.61L908.92 525.04L909.79 524.87L910.66 526.58L911.52 525.15L912.39 526.54L913.26 524.99L914.12 524.44L914.99 525.88L915.85 526.06L916.72 526.3L917.59 524.09L918.45 525.27L919.32 525.09L920.19 524.16L921.05 524.92L921.92 525.72L922.79 524.87L923.65 526.26L924.52 525.73L925.38 526.21L926.25 525.81L927.12 526.55L927.98 526.35L928.85 527.22L929.72 528.79L930.58 529.92L931.45 528.52L932.32 528.78L933.18 529.33L934.05 529.15L934.92 528.68L935.78 525.98L936.65 526.75L937.51 527.13L938.38 528.19L939.25 526.9L940.11 526.69L940.98 527.76L941.85 527.28L942.71 527.03L943.58 528.47L944.45 528.54L945.31 527.39L946.18 528.72L947.04 529.49L947.91 529.93L948.78 527.97L949.64 530.26L950.51 528.73L951.38 529.22L952.24 527.98L953.11 529.28L953.98 529.37L954.84 528.89L955.71 529.77L956.57 527.97L957.44 528.55L958.31 526.3L959.17 526.87L960.04 527.58L960.91 526.66L961.77 528.3L962.64 528.89L963.51 527.83L964.37 526.73L965.24 524.46L966.1 524.39L966.97 525.25L967.84 526.14L968.7 525.34L969.57 526.73L970.44 525.01L971.3 524.8L972.17 526.67L973.04 526.14L973.9 524.58L974.77 524.12L975.64 524.62L976.5 523.52L977.37 522.81L978.23 523.4L979.1 524.29L979.97 521.78L980.83 523.7L981.7 522.21L982.57 521.69L983.43 523.57L984.3 522.08L985.17 521.15L986.03 519.81L986.9 518.54L987.76 519.85L988.63 519.27L989.5 518.57L990.36 519.12L991.23 519.48L992.1 520.51L992.96 519.12L993.83 519.51L994.7 519.62L995.56 519.18L996.43 516.87L997.29 517.68L998.16 518.17L999.03 518.38L999.89 518.78L1000.76 519.21L1001.63 520.26L1002.49 518.55L1003.36 517.77L1004.23 517.09L1005.09 516.31L1005.96 517.26L1006.82 516.42L1007.69 516.94L1008.56 515.99L1009.42 514.5L1010.29 515.19L1011.16 517.15L1012.02 517.12L1012.89 516.16L1013.76 518.01L1014.62 516.6L1015.49 516.45L1016.36 515.54L1017.22 516.83L1018.09 517.16L1018.95 518.04L1019.82 515L1020.69 513.6L1021.55 512.29L1022.42 515.89L1023.29 515.84L1024.15 516.82L1025.02 515.57L1025.89 515.14L1026.75 513.16L1027.62 512.37L1028.48 512.75L1029.35 512.27L1030.22 514.61L1031.08 517.08L1031.95 514.98L1032.82 516.5L1033.68 514.45L1034.55 512.41L1035.42 512.33L1036.28 510.83L1037.15 511.45L1038.01 513.24" fill="none" stroke="#0000ff" stroke-width="0.56" stroke-linejoin="round"/>
<path d="M415.5 634.4h0M416.5 635.4h0M417.5 633.4h0M418.5 633.4h0M419.5 634.4h0M419.5 633.4h0M420.5 633.4h0M421.5 632.4h0M422.5 632.4h0M423.5 632.4h0M424.5 633.4h0M425.5 633.4h0M425.5 632.4h0M426.5 631.4h0M427.5 631.4h0M428.5 632.4h0M429.5 629.4h0M430.5 630.4h0M431.5 631.4h0M432.5 629.4h0M432.5 630.4h0M433.5 630.4h0M434.5 627.4h0M435.5 628.4h0M436.5 630.4h0M437.5 629.4h0M438.5 629.4h0M438.5 629.4h0M439.5 628.4h0M440.5 627.4h0M441.5 626.4h0M442.5 626.4h0M443.5 625.4h0M444.5 626.4h0M445.5 626.4h0M445.5 628.4h0M446.5 628.4h0M447.5 626.4h0M448.5 626.4h0M449.5 624.4h0M450.5 624.4h0M451.5 623.4h0M451.5 623.4h0M452.5 621.4h0M453.5 619.4h0M454.5 620.4h0M455.5 619.4h0M456.5 620.4h0M457.5 617.4h0M458.5 618.4h0M458.5 616.4h0M459.5 615.4h0M460.5 614.4h0M461.5 613.4h0M462.5 613.4h0M463.5 612.4h0M464.5 613.4h0M464.5 614.4h0M465.5 613.4h0M466.5 613.4h0M467.5 613.4h0M468.5 610.4h0M469.5 607.4h0M470.5 608.4h0M471.5 609.4h0M471.5 607.4h0M472.5 608.4h0M473.5 607.4h0M474.5 606.4h0M475.5 603.4h0M476.5 603.4h0M477.5 601.4h0M477.5 601.4h0M478.5 601.4h0M479.5 602.4h0M480.5 602.4h0M481.5 601.4h0M482.5 602.4h0M483.5 603.4h0M484.5 604.4h0M484.5 605.4h0M485.5 606.4h0M486.5 605.4h0M487.5 606.4h0M488.5 605.4h0M489.5 604.4h0M490.5 604.4h0M490.5 605.4h0M491.5 605.4h0M492.5 605.4h0M493.5 606.4h0M494.5 606.4h0M495.5 603.4h0M496.5 602.4h0M497.5 599.4h0M497.5 599.4h0M498.5 599.4h0M499.5 598.4h0M500.5 597.4h0M501.5 598.4h0M502.5 596.4h0M503.5 596.4h0M503.5 596.4h0M504.5 593.4h0M505.5 592.4h0M506.5 592.4h0M507.5 591.4h0M508.5 591.4h0M509.5 588.4h0M510.5 589.4h0M510.5 589.4h0M511.5 587.4h0M512.5 587.4h0M513.5 586.4h0M514.5 587.4h0M515.5 587.4h0M516.5 585.4h0M516.5 584.4h0M517.5 583.4h0M518.5 581.4h0M519.5 581.4h0M520.5 582.4h0M521.5 581.4h0M522.5 582.4h0M523.5 582.4h0M523.5 580.4h0M524.5 581.4h0M525.5 581.4h0M526.5 582.4h0M527.5 580.4h0M528.5 579.4h0M529.5 580.4h0M529.5 580.4h0M530.5 578.4h0M531.5 579.4h0M532.5 580.4h0M533.5 580.4h0M534.5 578.4h0M535.5 579.4h0M536.5 579.4h0M536.5 577.4h0M537.5 576.4h0M538.5 576.4h0M539.5 577.4h0M540.5 578.4h0M541.5 577.4h0M542.5 576.4h0M542.5 577.4h0M543.5 575.4h0M544.5 574.4h0M545.5 572.4h0M546.5 573.4h0M547.5 573.4h0M548.5 572.4h0M549.5 571.4h0M549.5 571.4h0M550.5 571.4h0M551.5 572.4h0M552.5 572.4h0M553.5 570.4h0M554.5 570.4h0M555.5 574.4h0M555.5 576.4h0M556.5 575.4h0M557.5 575.4h0M558.5 575.4h0M559.5 574.4h0M560.5 574.4h0M561.5 572.4h0M562.5 572.4h0M562.5 572.4h0M563.5 571.4h0M564.5 573.4h0M565.5 571.4h0M566.5 572.4h0M567.5 571.4h0M568.5 571.4h0M568.5 571.4h0M569.5 569.4h0M570.5 569.4h0M571.5 569.4h0M572.5 568.4h0M573.5 568.4h0M574.5 566.4h0M575.5 566.4h0M575.5 566.4h0M576.5 566.4h0M577.5 565.4h0M578.5 566.4h0M579.5 565.4h0M580.5 564.4h0M581.5 564.4h0M581.5 564.4h0M582.5 564.4h0M583.5 564.4h0M584.5 564.4h0M585.5 565.4h0M586.5 563.4h0M587.5 563.4h0M587.5 563.4h0M588.5 564.4h0M589.5 563.4h0M590.5 565.4h0M591.5 565.4h0M592.5 563.4h0M593.5 563.4h0M594.5 565.4h0M594.5 565.4h0M595.5 565.4h0M596.5 564.4h0M597.5 566.4h0M598.5 564.4h0M599.5 562.4h0M600.5 562.4h0M600.5 560.4h0M601.5 561.4h0M602.5 561.4h0M603.5 560.4h0M604.5 560.4h0M605.5 558.4h0M606.5 558.4h0M607.5 557.4h0M607.5 557.4h0M608.5 555.4h0M609.5 557.4h0M610.5 556.4h0M611.5 556.4h0M612.5 555.4h0M613.5 556.4h0M613.5 556.4h0M614.5 555.4h0M615.5 553.4h0M616.5 554.4h0M617.5 552.4h0M618.5 554.4h0M619.5 553.4h0M620.5 553.4h0M620.5 555.4h0M621.5 556.4h0M622.5 555.4h0M623.5 556.4h0M624.5 554.4h0M625.5 556.4h0M626.5 556.4h0M626.5 555.4h0M627.5 556.4h0M628.5 555.4h0M629.5 556.4h0M630.5 555.4h0M631.5 556.4h0M632.5 557.4h0M633.5 555.4h0M633.5 557.4h0M634.5 557.4h0M635.5 557.4h0M636.5 558.4h0M637.5 557.4h0M638.5 558.4h0M639.5 557.4h0M639.5 556.4h0M640.5 557.4h0M641.5 554.4h0M642.5 552.4h0M643.5 553.4h0M644.5 551.4h0M645.5 551.4h0M646.5 552.4h0M646.5 550.4h0M647.5 551.4h0M648.5 551.4h0M649.5 550.4h0M650.5 550.4h0M651.5 550.4h0M652.5 552.4h0M652.5 550.4h0M653.5 549.4h0M654.5 549.4h0M655.5 550.4h0M656.5 549.4h0M657.5 551.4h0M658.5 549.4h0M659.5 551.4h0M659.5 550.4h0M660.5 548.4h0M661.5 550.4h0M662.5 547.4h0M663.5 546.4h0M664.5 546.4h0M665.5 546.4h0M665.5 547.4h0M666.5 546.4h0M667.5 545.4h0M668.5 545.4h0M669.5 546.4h0M670.5 549.4h0M671.5 548.4h0M672.5 550.4h0M672.5 550.4h0M673.5 551.4h0M674.5 552.4h0M675.5 553.4h0M676.5 552.4h0M677.5 551.4h0M678.5 553.4h0M678.5 550.4h0M679.5 550.4h0M680.5 551.4h0M681.5 551.4h0M682.5 551.4h0M683.5 551.4h0M684.5 549.4h0M685.5 550.4h0M685.5 549.4h0M686.5 548.4h0M687.5 548.4h0M688.5 545.4h0M689.5 545.4h0M690.5 545.4h0M691.5 543.4h0M691.5 545.4h0M692.5 545.4h0M693.5 546.4h0M694.5 545.4h0M695.5 545.4h0M696.5 543.4h0M697.5 543.4h0M698.5 542.4h0M698.5 541.4h0M699.5 543.4h0M700.5 542.4h0M701.5 543.4h0M702.5 542.4h0M703.5 540.4h0M704.5 541.4h0M704.5 539.4h0M705.5 541.4h0M706.5 539.4h0M707.5 541.4h0M708.5 540.4h0M709.5 542.4h0M710.5 542.4h0M711.5 540.4h0M711.5 539.4h0M712.5 539.4h0M713.5 538.4h0M714.5 539.4h0M715.5 540.4h0M716.5 539.4h0M717.5 540.4h0M717.5 539.4h0M718.5 540.4h0M719.5 537.4h0M720.5 538.4h0M721.5 539.4h0M722.5 539.4h0M723.5 537.4h0M724.5 539.4h0M724.5 538.4h0M725.5 540.4h0M726.5 540.4h0M727.5 539.4h0M728.5 541.4h0M729.5 541.4h0M730.5 539.4h0M730.5 539.4h0M731.5 536.4h0M732.5 535.4h0M733.5 535.4h0M734.5 537.4h0M735.5 537.4h0M736.5 537.4h0M737.5 536.4h0M737.5 535.4h0M738.5 535.4h0M739.5 536.4h0M740.5 537.4h0M741.5 537.4h0M742.5 538.4h0M743.5 536.4h0M743.5 536.4h0M744.5 536.4h0M745.5 535.4h0M746.5 535.4h0M747.5 538.4h0M748.5 537.4h0M749.5 537.4h0M750.5 537.4h0M750.5 535.4h0M751.5 536.4h0M752.5 534.4h0M753.5 533.4h0M754.5 534.4h0M755.5 533.4h0M756.5 533.4h0M756.5 532.4h0M757.5 534.4h0M758.5 533.4h0M759.5 533.4h0M760.5 532.4h0M761.5 533.4h0M762.5 532.4h0M763.5 532.4h0M763.5 532.4h0M764.5 532.4h0M765.5 534.4h0M766.5 531.4h0M767.5 533.4h0M768.5 532.4h0M769.5 531.4h0M769.5 531.4h0M770.5 532.4h0M771.5 532.4h0M772.5 532.4h0M773.5 531.4h0M774.5 529.4h0M775.5 529.4h0M776.5 529.4h0M776.5 529.4h0M777.5 530.4h0M778.5 528.4h0M779.5 530.4h0M780.5 530.4h0M781.5 530.4h0M782.5 530.4h0M782.5 530.4h0M783.5 530.4h0M784.5 528.4h0M785.5 529.4h0M786.5 527.4h0M787.5 527.4h0M788.5 527.4h0M788.5 528.4h0M789.5 528.4h0M790.5 528.4h0M791.5 529.4h0M792.5 528.4h0M793.5 526.4h0M794.5 525.4h0M795.5 526.4h0M795.5 526.4h0M796.5 525.4h0M797.5 525.4h0M798.5 525.4h0M799.5 526.4h0M800.5 527.4h0M801.5 527.4h0M801.5 526.4h0M802.5 526.4h0M803.5 527.4h0M804.5 528.4h0M805.5 528.4h0M806.5 526.4h0M807.5 526.4h0M808.5 526.4h0M808.5 528.4h0M809.5 529.4h0M810.5 529.4h0M811.5 530.4h0M812.5 529.4h0M813.5 528.4h0M814.5 527.4h0M814.5 526.4h0M815.5 527.4h0M816.5 527.4h0M817.5 528.4h0M818.5 527.4h0M819.5 528.4h0M820.5 529.4h0M821.5 528.4h0M821.5 530.4h0M822.5 529.4h0M823.5 530.4h0M824.5 532.4h0M825.5 532.4h0M826.5 532.4h0M827.5 530.4h0M827.5 531.4h0M828.5 530.4h0M829.5 530.4h0M830.5 530.4h0M831.5 531.4h0M832.5 531.4h0M833.5 529.4h0M834.5 529.4h0M834.5 530.4h0M835.5 529.4h0M836.5 529.4h0M837.5 529.4h0M838.5 528.4h0M839.5 527.4h0M840.5 527.4h0M840.5 527.4h0M841.5 527.4h0M842.5 526.4h0M843.5 527.4h0M844.5 529.4h0M845.5 527.4h0M846.5 528.4h0M847.5 528.4h0M847.5 528.4h0M848.5 529.4h0M849.5 528.4h0M850.5 528.4h0M851.5 530.4h0M852.5 528.4h0M853.5 531.4h0M853.5 529.4h0M854.5 529.4h0M855.5 528.4h0M856.5 526.4h0M857.5 524.4h0M858.5 525.4h0M859.5 525.4h0M860.5 527.4h0M860.5 527.4h0M861.5 527.4h0M862.5 527.4h0M863.5 527.4h0M864.5 525.4h0M865.5 524.4h0M866.5 525.4h0M866.5 525.4h0M867.5 524.4h0M868.5 527.4h0M869.5 527.4h0M870.5 526.4h0M871.5 527.4h0M872.5 527.4h0M873.5 528.4h0M873.5 527.4h0M874.5 527.4h0M875.5 526.4h0M876.5 525.4h0M877.5 526.4h0M878.5 525.4h0M879.5 525.4h0M879.5 525.4h0M880.5 526.4h0M881.5 525.4h0M882.5 526.4h0M883.5 526.4h0M884.5 525.4h0M885.5 526.4h0M886.5 524.4h0M886.5 524.4h0M887.5 527.4h0M888.5 527.4h0M889.5 525.4h0M890.5 527.4h0M891.5 525.4h0M892.5 526.4h0M892.5 527.4h0M893.5 528.4h0M894.5 528.4h0M895.5 529.4h0M896.5 527.4h0M897.5 526.4h0M898.5 525.4h0M899.5 524.4h0M899.5 524.4h0M900.5 525.4h0M901.5 526.4h0M902.5 525.4h0M903.5 525.4h0M904.5 523.4h0M905.5 524.4h0M905.5 524.4h0M906.5 524.4h0M907.5 525.4h0M908.5 525.4h0M909.5 525.4h0M910.5 525.4h0M911.5 527.4h0M912.5 525.4h0M912.5 527.4h0M913.5 525.4h0M914.5 524.4h0M915.5 526.4h0M916.5 526.4h0M917.5 526.4h0M918.5 524.4h0M918.5 525.4h0M919.5 525.4h0M920.5 524.4h0M921.5 525.4h0M922.5 526.4h0M923.5 525.4h0M924.5 526.4h0M925.5 526.4h0M925.5 526.4h0M926.5 526.4h0M927.5 527.4h0M928.5 526.4h0M929.5 527.4h0M930.5 529.4h0M931.5 530.4h0M931.5 529.4h0M932.5 529.4h0M933.5 529.4h0M934.5 529.4h0M935.5 529.4h0M936.5 526.4h0M937.5 527.4h0M938.5 527.4h0M938.5 528.4h0M939.5 527.4h0M940.5 527.4h0M941.5 528.4h0M942.5 527.4h0M943.5 527.4h0M944.5 528.4h0M944.5 529.4h0M945.5 527.4h0M946.5 529.4h0M947.5 529.4h0M948.5 530.4h0M949.5 528.4h0M950.5 530.4h0M951.5 529.4h0M951.5 529.4h0M952.5 528.4h0M953.5 529.4h0M954.5 529.4h0M955.5 529.4h0M956.5 530.4h0M957.5 528.4h0M957.5 529.4h0M958.5 526.4h0M959.5 527.4h0M960.5 528.4h0M961.5 527.4h0M962.5 528.4h0M963.5 529.4h0M964.5 528.4h0M964.5 527.4h0M965.5 524.4h0M966.5 524.4h0M967.5 525.4h0M968.5 526.4h0M969.5 525.4h0M970.5 527.4h0M970.5 525.4h0M971.5 525.4h0M972.5 527.4h0M973.5 526.4h0M974.5 525.4h0M975.5 524.4h0M976.5 525.4h0M977.5 524.4h0M977.5 523.4h0M978.5 523.4h0M979.5 524.4h0M980.5 522.4h0M981.5 524.4h0M982.5 522.4h0M983.5 522.4h0M983.5 524.4h0M984.5 522.4h0M985.5 521.4h0M986.5 520.4h0M987.5 519.4h0M988.5 520.4h0M989.5 519.4h0M989.5 519.4h0M990.5 519.4h0M991.5 519.4h0M992.5 521.4h0M993.5 519.4h0M994.5 520.4h0M995.5 520.4h0M996.5 519.4h0M996.5 517.4h0M997.5 518.4h0M998.5 518.4h0M999.5 518.4h0M1000.5 519.4h0M1001.5 519.4h0M1002.5 520.4h0M1002.5 519.4h0M1003.5 518.4h0M1004.5 517.4h0M1005.5 516.4h0M1006.5 517.4h0M1007.5 516.4h0M1008.5 517.4h0M1009.5 516.4h0M1009.5 514.4h0M1010.5 515.4h0M1011.5 517.4h0M1012.5 517.4h0M1013.5 516.4h0M1014.5 518.4h0M1015.5 517.4h0M1015.5 516.4h0M1016.5 516.4h0M1017.5 517.4h0M1018.5 517.4h0M1019.5 518.4h0M1020.5 515.4h0M1021.5 514.4h0M1022.5 512.4h0M1022.5 516.4h0M1023.5 516.4h0M1024.5 517.4h0M1025.5 516.4h0M1026.5 515.4h0M1027.5 513.4h0M1028.5 512.4h0M1028.5 513.4h0M1029.5 512.4h0M1030.5 515.4h0M1031.5 517.4h0M1032.5 515.4h0M1033.5 517.4h0M1034.5 514.4h0M1035.5 512.4h0M1035.5 512.4h0M1036.5 511.4h0M1037.5 511.4h0M1038.5 513.4h0" fill="none" stroke="#0000ff" stroke-width="3.12" stroke-linecap="round"/>
</g>
<path d="M66.5 641.5v5M222.5 641.5v5M378.5 641.5v5M534.5 641.5v5M690.5 641.5v5M846.5 641.5v5M1002.5 641.5v5M1158.5 641.5v5M1314.5 641.5v5" stroke="#000" stroke-width="1.11" fill="none"/>
<rect x="61.5" y="529" width="5" height="1" fill="#000"/><rect x="61.5" y="528" width="5" height="3" fill="#000" fill-opacity="0.055"/>
<rect x="61.5" y="581" width="5" height="1" fill="#000"/><rect x="61.5" y="580" width="5" height="3" fill="#000" fill-opacity="0.055"/>
<rect x="61.5" y="634" width="5" height="1" fill="#000"/><rect x="61.5" y="633" width="5" height="3" fill="#000" fill-opacity="0.055"/>
<rect x="66.5" y="504.5" width="1248" height="137" fill="none" stroke="#000" stroke-width="1.11"/>
<text x="34.88 43.62 52.38 57 65.75 74.5 79.12 89.25" y="661.5">00:00 UT</text>
<text x="42 54 62.62 68.38 72.75 81.62" y="677.5">Mar 16</text>
<text x="48 56.75 65.5 74.25" y="694.5">2026</text>
<text x="191 199.75 208.5 213.12 221.88 230.62 235 245.12" y="661.5">03:00 UT</text>
<text x="198 210 218.62 224.38 228.75 237.62" y="677.5">Mar 16</text>
<text x="204 212.75 221.5 230.25" y="694.5">2026</text>
<text x="346 354.75 363.62 368.25 377 385.75 390.12 400.25" y="661.5">06:00 UT</text>
<text x="354 366 374.62 380.38 384.75 393.62" y="677.5">Mar 16</text>
<text x="360 368.75 377.5 386.25" y="694.5">2026</text>
<text x="502 510.75 519.62 524.25 533 541.75 546.12 556.25" y="661.5">09:00 UT</text>
<text x="510 522 530.62 536.38 540.75 549.62" y="677.5">Mar 16</text>
<text x="516 524.75 533.5 542.25" y="694.5">2026</text>
<text x="658 666.88 675.62 680.25 689 697.75 702.12 712.25" y="661.5">12:00 UT</text>
<text x="666 678 686.62 692.38 696.75 705.62" y="677.5">Mar 16</text>
<text x="672 680.75 689.5 698.25" y="694.5">2026</text>
<text x="814 822.88 831.62 836.25 845 853.75 858.12 868.25" y="661.5">15:00 UT</text>
<text x="821 833 841.62 847.38 851.75 860.62" y="677.5">Mar 16</text>
<text x="828 836.75 845.5 854.25" y="694.5">2026</text>
<text x="970 978.88 987.75 992.38 1001.12 1009.88 1014.25 1024.38" y="661.5">18:00 UT</text>
<text x="977 989 997.62 1003.38 1007.75 1016.62" y="677.5">Mar 16</text>
<text x="984 992.75 1001.5 1010.25" y="694.5">2026</text>
<text x="1126 1134.75 1143.62 1148.25 1157 1165.75 1170.12 1180.25" y="661.5">21:00 UT</text>
<text x="1133 1145 1153.62 1159.38 1163.75 1172.62" y="677.5">Mar 16</text>
<text x="1140 1148.75 1157.5 1166.25" y="694.5">2026</text>
<text x="1281.88 1290.62 1299.38 1304 1312.75 1321.5 1326.12 1336.25" y="661.5">00:00 UT</text>
<text x="1289 1301 1309.62 1315.38 1319.75 1328.62" y="677.5">Mar 17</text>
<text x="1296 1304.75 1313.5 1322.25" y="694.5">2026</text>
<text x="29.88 38.25 46.88" y="534.5">996</text>
<text x="30.88 39.25 47.88" y="586.5">994</text>
<text x="30.88 39.25 47.62" y="639.5">992</text>
<text transform="rotate(-90)"><tspan x="-624 -615.88 -610.62 -601.88 -594.75 -587.62 -578.88 -573.62 -565.12 -560.5 -555 -546.25 -538.5 -529.88" y="20.5">Pressure (hPa)</tspan></text>
<rect x="1238.5" y="511.5" width="69" height="25" rx="2.6" fill="#fff" fill-opacity="0.8" stroke="#ccc" stroke-opacity="0.8" stroke-width="1.39"/>
<rect x="1241.5" y="510" width="63" height="3" fill="#ccc" fill-opacity="0.07"/>
<rect x="1241.5" y="535" width="63" height="3" fill="#ccc" fill-opacity="0.07"/>
<path d="M1244.22 522.5h28.56" stroke="#0000ff" stroke-width="0.56" fill="none"/>
<path d="M1258.5 522.4h0" stroke="#0000ff" stroke-width="3.12" stroke-linecap="round" fill="none"/>
<text x="1284 1292.12 1295.5" y="527.5">air</text>
</g>
</svg>
</body>
</html>
